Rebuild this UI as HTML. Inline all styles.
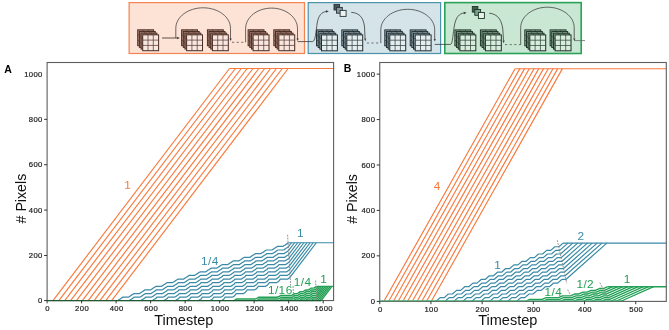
<!DOCTYPE html>
<html><head><meta charset="utf-8"><style>
html,body{margin:0;padding:0;background:#fff;}
svg{display:block;font-family:"Liberation Sans", sans-serif;will-change:transform;}
.tk{fill:#1a1a1a;stroke:#1a1a1a;stroke-width:0.2px;}
</style></head><body>
<svg width="669" height="330" viewBox="0 0 669 330">
<rect width="669" height="330" fill="#fff"/>
<rect x="129.1" y="2.6" width="175.4" height="50.9" fill="#fde2d6" stroke="#f58452" stroke-width="1.2"/>
<rect x="308.2" y="2.6" width="132.4" height="50.9" fill="#d5e4e9" stroke="#4b93ad" stroke-width="1.2"/>
<rect x="444.8" y="2.6" width="136.4" height="50.9" fill="#c9e7d3" stroke="#2aa257" stroke-width="1.6"/>
<rect x="137.70" y="29.80" width="15.9" height="15.9" fill="#a88579"/>
<line x1="143.00" y1="29.80" x2="143.00" y2="45.70" stroke="#4a2c22" stroke-width="0.55"/>
<line x1="137.70" y1="35.10" x2="153.60" y2="35.10" stroke="#4a2c22" stroke-width="0.55"/>
<line x1="148.30" y1="29.80" x2="148.30" y2="45.70" stroke="#4a2c22" stroke-width="0.55"/>
<line x1="137.70" y1="40.40" x2="153.60" y2="40.40" stroke="#4a2c22" stroke-width="0.55"/>
<rect x="137.70" y="29.80" width="15.9" height="15.9" fill="none" stroke="#4a2c22" stroke-width="0.95"/>
<rect x="139.37" y="31.47" width="15.9" height="15.9" fill="#a88579"/>
<line x1="144.67" y1="31.47" x2="144.67" y2="47.37" stroke="#4a2c22" stroke-width="0.55"/>
<line x1="139.37" y1="36.77" x2="155.27" y2="36.77" stroke="#4a2c22" stroke-width="0.55"/>
<line x1="149.97" y1="31.47" x2="149.97" y2="47.37" stroke="#4a2c22" stroke-width="0.55"/>
<line x1="139.37" y1="42.07" x2="155.27" y2="42.07" stroke="#4a2c22" stroke-width="0.55"/>
<rect x="139.37" y="31.47" width="15.9" height="15.9" fill="none" stroke="#4a2c22" stroke-width="0.95"/>
<rect x="141.04" y="33.14" width="15.9" height="15.9" fill="#a88579"/>
<line x1="146.34" y1="33.14" x2="146.34" y2="49.04" stroke="#4a2c22" stroke-width="0.55"/>
<line x1="141.04" y1="38.44" x2="156.94" y2="38.44" stroke="#4a2c22" stroke-width="0.55"/>
<line x1="151.64" y1="33.14" x2="151.64" y2="49.04" stroke="#4a2c22" stroke-width="0.55"/>
<line x1="141.04" y1="43.74" x2="156.94" y2="43.74" stroke="#4a2c22" stroke-width="0.55"/>
<rect x="141.04" y="33.14" width="15.9" height="15.9" fill="none" stroke="#4a2c22" stroke-width="0.95"/>
<rect x="142.71" y="34.81" width="15.9" height="15.9" fill="#f7e7e0"/>
<line x1="148.01" y1="34.81" x2="148.01" y2="50.71" stroke="#5e3e34" stroke-width="0.75"/>
<line x1="142.71" y1="40.11" x2="158.61" y2="40.11" stroke="#5e3e34" stroke-width="0.75"/>
<line x1="153.31" y1="34.81" x2="153.31" y2="50.71" stroke="#5e3e34" stroke-width="0.75"/>
<line x1="142.71" y1="45.41" x2="158.61" y2="45.41" stroke="#5e3e34" stroke-width="0.75"/>
<rect x="142.71" y="34.81" width="15.9" height="15.9" fill="none" stroke="#4a2c22" stroke-width="1.0"/>
<rect x="181.60" y="29.80" width="15.9" height="15.9" fill="#a88579"/>
<line x1="186.90" y1="29.80" x2="186.90" y2="45.70" stroke="#4a2c22" stroke-width="0.55"/>
<line x1="181.60" y1="35.10" x2="197.50" y2="35.10" stroke="#4a2c22" stroke-width="0.55"/>
<line x1="192.20" y1="29.80" x2="192.20" y2="45.70" stroke="#4a2c22" stroke-width="0.55"/>
<line x1="181.60" y1="40.40" x2="197.50" y2="40.40" stroke="#4a2c22" stroke-width="0.55"/>
<rect x="181.60" y="29.80" width="15.9" height="15.9" fill="none" stroke="#4a2c22" stroke-width="0.95"/>
<rect x="183.27" y="31.47" width="15.9" height="15.9" fill="#a88579"/>
<line x1="188.57" y1="31.47" x2="188.57" y2="47.37" stroke="#4a2c22" stroke-width="0.55"/>
<line x1="183.27" y1="36.77" x2="199.17" y2="36.77" stroke="#4a2c22" stroke-width="0.55"/>
<line x1="193.87" y1="31.47" x2="193.87" y2="47.37" stroke="#4a2c22" stroke-width="0.55"/>
<line x1="183.27" y1="42.07" x2="199.17" y2="42.07" stroke="#4a2c22" stroke-width="0.55"/>
<rect x="183.27" y="31.47" width="15.9" height="15.9" fill="none" stroke="#4a2c22" stroke-width="0.95"/>
<rect x="184.94" y="33.14" width="15.9" height="15.9" fill="#a88579"/>
<line x1="190.24" y1="33.14" x2="190.24" y2="49.04" stroke="#4a2c22" stroke-width="0.55"/>
<line x1="184.94" y1="38.44" x2="200.84" y2="38.44" stroke="#4a2c22" stroke-width="0.55"/>
<line x1="195.54" y1="33.14" x2="195.54" y2="49.04" stroke="#4a2c22" stroke-width="0.55"/>
<line x1="184.94" y1="43.74" x2="200.84" y2="43.74" stroke="#4a2c22" stroke-width="0.55"/>
<rect x="184.94" y="33.14" width="15.9" height="15.9" fill="none" stroke="#4a2c22" stroke-width="0.95"/>
<rect x="186.61" y="34.81" width="15.9" height="15.9" fill="#f7e7e0"/>
<line x1="191.91" y1="34.81" x2="191.91" y2="50.71" stroke="#5e3e34" stroke-width="0.75"/>
<line x1="186.61" y1="40.11" x2="202.51" y2="40.11" stroke="#5e3e34" stroke-width="0.75"/>
<line x1="197.21" y1="34.81" x2="197.21" y2="50.71" stroke="#5e3e34" stroke-width="0.75"/>
<line x1="186.61" y1="45.41" x2="202.51" y2="45.41" stroke="#5e3e34" stroke-width="0.75"/>
<rect x="186.61" y="34.81" width="15.9" height="15.9" fill="none" stroke="#4a2c22" stroke-width="1.0"/>
<rect x="207.40" y="29.80" width="15.9" height="15.9" fill="#a88579"/>
<line x1="212.70" y1="29.80" x2="212.70" y2="45.70" stroke="#4a2c22" stroke-width="0.55"/>
<line x1="207.40" y1="35.10" x2="223.30" y2="35.10" stroke="#4a2c22" stroke-width="0.55"/>
<line x1="218.00" y1="29.80" x2="218.00" y2="45.70" stroke="#4a2c22" stroke-width="0.55"/>
<line x1="207.40" y1="40.40" x2="223.30" y2="40.40" stroke="#4a2c22" stroke-width="0.55"/>
<rect x="207.40" y="29.80" width="15.9" height="15.9" fill="none" stroke="#4a2c22" stroke-width="0.95"/>
<rect x="209.07" y="31.47" width="15.9" height="15.9" fill="#a88579"/>
<line x1="214.37" y1="31.47" x2="214.37" y2="47.37" stroke="#4a2c22" stroke-width="0.55"/>
<line x1="209.07" y1="36.77" x2="224.97" y2="36.77" stroke="#4a2c22" stroke-width="0.55"/>
<line x1="219.67" y1="31.47" x2="219.67" y2="47.37" stroke="#4a2c22" stroke-width="0.55"/>
<line x1="209.07" y1="42.07" x2="224.97" y2="42.07" stroke="#4a2c22" stroke-width="0.55"/>
<rect x="209.07" y="31.47" width="15.9" height="15.9" fill="none" stroke="#4a2c22" stroke-width="0.95"/>
<rect x="210.74" y="33.14" width="15.9" height="15.9" fill="#a88579"/>
<line x1="216.04" y1="33.14" x2="216.04" y2="49.04" stroke="#4a2c22" stroke-width="0.55"/>
<line x1="210.74" y1="38.44" x2="226.64" y2="38.44" stroke="#4a2c22" stroke-width="0.55"/>
<line x1="221.34" y1="33.14" x2="221.34" y2="49.04" stroke="#4a2c22" stroke-width="0.55"/>
<line x1="210.74" y1="43.74" x2="226.64" y2="43.74" stroke="#4a2c22" stroke-width="0.55"/>
<rect x="210.74" y="33.14" width="15.9" height="15.9" fill="none" stroke="#4a2c22" stroke-width="0.95"/>
<rect x="212.41" y="34.81" width="15.9" height="15.9" fill="#f7e7e0"/>
<line x1="217.71" y1="34.81" x2="217.71" y2="50.71" stroke="#5e3e34" stroke-width="0.75"/>
<line x1="212.41" y1="40.11" x2="228.31" y2="40.11" stroke="#5e3e34" stroke-width="0.75"/>
<line x1="223.01" y1="34.81" x2="223.01" y2="50.71" stroke="#5e3e34" stroke-width="0.75"/>
<line x1="212.41" y1="45.41" x2="228.31" y2="45.41" stroke="#5e3e34" stroke-width="0.75"/>
<rect x="212.41" y="34.81" width="15.9" height="15.9" fill="none" stroke="#4a2c22" stroke-width="1.0"/>
<rect x="248.10" y="29.80" width="15.9" height="15.9" fill="#a88579"/>
<line x1="253.40" y1="29.80" x2="253.40" y2="45.70" stroke="#4a2c22" stroke-width="0.55"/>
<line x1="248.10" y1="35.10" x2="264.00" y2="35.10" stroke="#4a2c22" stroke-width="0.55"/>
<line x1="258.70" y1="29.80" x2="258.70" y2="45.70" stroke="#4a2c22" stroke-width="0.55"/>
<line x1="248.10" y1="40.40" x2="264.00" y2="40.40" stroke="#4a2c22" stroke-width="0.55"/>
<rect x="248.10" y="29.80" width="15.9" height="15.9" fill="none" stroke="#4a2c22" stroke-width="0.95"/>
<rect x="249.77" y="31.47" width="15.9" height="15.9" fill="#a88579"/>
<line x1="255.07" y1="31.47" x2="255.07" y2="47.37" stroke="#4a2c22" stroke-width="0.55"/>
<line x1="249.77" y1="36.77" x2="265.67" y2="36.77" stroke="#4a2c22" stroke-width="0.55"/>
<line x1="260.37" y1="31.47" x2="260.37" y2="47.37" stroke="#4a2c22" stroke-width="0.55"/>
<line x1="249.77" y1="42.07" x2="265.67" y2="42.07" stroke="#4a2c22" stroke-width="0.55"/>
<rect x="249.77" y="31.47" width="15.9" height="15.9" fill="none" stroke="#4a2c22" stroke-width="0.95"/>
<rect x="251.44" y="33.14" width="15.9" height="15.9" fill="#a88579"/>
<line x1="256.74" y1="33.14" x2="256.74" y2="49.04" stroke="#4a2c22" stroke-width="0.55"/>
<line x1="251.44" y1="38.44" x2="267.34" y2="38.44" stroke="#4a2c22" stroke-width="0.55"/>
<line x1="262.04" y1="33.14" x2="262.04" y2="49.04" stroke="#4a2c22" stroke-width="0.55"/>
<line x1="251.44" y1="43.74" x2="267.34" y2="43.74" stroke="#4a2c22" stroke-width="0.55"/>
<rect x="251.44" y="33.14" width="15.9" height="15.9" fill="none" stroke="#4a2c22" stroke-width="0.95"/>
<rect x="253.11" y="34.81" width="15.9" height="15.9" fill="#f7e7e0"/>
<line x1="258.41" y1="34.81" x2="258.41" y2="50.71" stroke="#5e3e34" stroke-width="0.75"/>
<line x1="253.11" y1="40.11" x2="269.01" y2="40.11" stroke="#5e3e34" stroke-width="0.75"/>
<line x1="263.71" y1="34.81" x2="263.71" y2="50.71" stroke="#5e3e34" stroke-width="0.75"/>
<line x1="253.11" y1="45.41" x2="269.01" y2="45.41" stroke="#5e3e34" stroke-width="0.75"/>
<rect x="253.11" y="34.81" width="15.9" height="15.9" fill="none" stroke="#4a2c22" stroke-width="1.0"/>
<rect x="273.80" y="29.80" width="15.9" height="15.9" fill="#a88579"/>
<line x1="279.10" y1="29.80" x2="279.10" y2="45.70" stroke="#4a2c22" stroke-width="0.55"/>
<line x1="273.80" y1="35.10" x2="289.70" y2="35.10" stroke="#4a2c22" stroke-width="0.55"/>
<line x1="284.40" y1="29.80" x2="284.40" y2="45.70" stroke="#4a2c22" stroke-width="0.55"/>
<line x1="273.80" y1="40.40" x2="289.70" y2="40.40" stroke="#4a2c22" stroke-width="0.55"/>
<rect x="273.80" y="29.80" width="15.9" height="15.9" fill="none" stroke="#4a2c22" stroke-width="0.95"/>
<rect x="275.47" y="31.47" width="15.9" height="15.9" fill="#a88579"/>
<line x1="280.77" y1="31.47" x2="280.77" y2="47.37" stroke="#4a2c22" stroke-width="0.55"/>
<line x1="275.47" y1="36.77" x2="291.37" y2="36.77" stroke="#4a2c22" stroke-width="0.55"/>
<line x1="286.07" y1="31.47" x2="286.07" y2="47.37" stroke="#4a2c22" stroke-width="0.55"/>
<line x1="275.47" y1="42.07" x2="291.37" y2="42.07" stroke="#4a2c22" stroke-width="0.55"/>
<rect x="275.47" y="31.47" width="15.9" height="15.9" fill="none" stroke="#4a2c22" stroke-width="0.95"/>
<rect x="277.14" y="33.14" width="15.9" height="15.9" fill="#a88579"/>
<line x1="282.44" y1="33.14" x2="282.44" y2="49.04" stroke="#4a2c22" stroke-width="0.55"/>
<line x1="277.14" y1="38.44" x2="293.04" y2="38.44" stroke="#4a2c22" stroke-width="0.55"/>
<line x1="287.74" y1="33.14" x2="287.74" y2="49.04" stroke="#4a2c22" stroke-width="0.55"/>
<line x1="277.14" y1="43.74" x2="293.04" y2="43.74" stroke="#4a2c22" stroke-width="0.55"/>
<rect x="277.14" y="33.14" width="15.9" height="15.9" fill="none" stroke="#4a2c22" stroke-width="0.95"/>
<rect x="278.81" y="34.81" width="15.9" height="15.9" fill="#f7e7e0"/>
<line x1="284.11" y1="34.81" x2="284.11" y2="50.71" stroke="#5e3e34" stroke-width="0.75"/>
<line x1="278.81" y1="40.11" x2="294.71" y2="40.11" stroke="#5e3e34" stroke-width="0.75"/>
<line x1="289.41" y1="34.81" x2="289.41" y2="50.71" stroke="#5e3e34" stroke-width="0.75"/>
<line x1="278.81" y1="45.41" x2="294.71" y2="45.41" stroke="#5e3e34" stroke-width="0.75"/>
<rect x="278.81" y="34.81" width="15.9" height="15.9" fill="none" stroke="#4a2c22" stroke-width="1.0"/>
<rect x="316.50" y="29.90" width="15.9" height="15.9" fill="#96a5aa"/>
<line x1="321.80" y1="29.90" x2="321.80" y2="45.80" stroke="#1f2d32" stroke-width="0.55"/>
<line x1="316.50" y1="35.20" x2="332.40" y2="35.20" stroke="#1f2d32" stroke-width="0.55"/>
<line x1="327.10" y1="29.90" x2="327.10" y2="45.80" stroke="#1f2d32" stroke-width="0.55"/>
<line x1="316.50" y1="40.50" x2="332.40" y2="40.50" stroke="#1f2d32" stroke-width="0.55"/>
<rect x="316.50" y="29.90" width="15.9" height="15.9" fill="none" stroke="#1f2d32" stroke-width="0.95"/>
<rect x="318.17" y="31.57" width="15.9" height="15.9" fill="#96a5aa"/>
<line x1="323.47" y1="31.57" x2="323.47" y2="47.47" stroke="#1f2d32" stroke-width="0.55"/>
<line x1="318.17" y1="36.87" x2="334.07" y2="36.87" stroke="#1f2d32" stroke-width="0.55"/>
<line x1="328.77" y1="31.57" x2="328.77" y2="47.47" stroke="#1f2d32" stroke-width="0.55"/>
<line x1="318.17" y1="42.17" x2="334.07" y2="42.17" stroke="#1f2d32" stroke-width="0.55"/>
<rect x="318.17" y="31.57" width="15.9" height="15.9" fill="none" stroke="#1f2d32" stroke-width="0.95"/>
<rect x="319.84" y="33.24" width="15.9" height="15.9" fill="#96a5aa"/>
<line x1="325.14" y1="33.24" x2="325.14" y2="49.14" stroke="#1f2d32" stroke-width="0.55"/>
<line x1="319.84" y1="38.54" x2="335.74" y2="38.54" stroke="#1f2d32" stroke-width="0.55"/>
<line x1="330.44" y1="33.24" x2="330.44" y2="49.14" stroke="#1f2d32" stroke-width="0.55"/>
<line x1="319.84" y1="43.84" x2="335.74" y2="43.84" stroke="#1f2d32" stroke-width="0.55"/>
<rect x="319.84" y="33.24" width="15.9" height="15.9" fill="none" stroke="#1f2d32" stroke-width="0.95"/>
<rect x="321.51" y="34.91" width="15.9" height="15.9" fill="#e4ecee"/>
<line x1="326.81" y1="34.91" x2="326.81" y2="50.81" stroke="#33434a" stroke-width="0.75"/>
<line x1="321.51" y1="40.21" x2="337.41" y2="40.21" stroke="#33434a" stroke-width="0.75"/>
<line x1="332.11" y1="34.91" x2="332.11" y2="50.81" stroke="#33434a" stroke-width="0.75"/>
<line x1="321.51" y1="45.51" x2="337.41" y2="45.51" stroke="#33434a" stroke-width="0.75"/>
<rect x="321.51" y="34.91" width="15.9" height="15.9" fill="none" stroke="#1f2d32" stroke-width="1.0"/>
<rect x="341.80" y="29.90" width="15.9" height="15.9" fill="#96a5aa"/>
<line x1="347.10" y1="29.90" x2="347.10" y2="45.80" stroke="#1f2d32" stroke-width="0.55"/>
<line x1="341.80" y1="35.20" x2="357.70" y2="35.20" stroke="#1f2d32" stroke-width="0.55"/>
<line x1="352.40" y1="29.90" x2="352.40" y2="45.80" stroke="#1f2d32" stroke-width="0.55"/>
<line x1="341.80" y1="40.50" x2="357.70" y2="40.50" stroke="#1f2d32" stroke-width="0.55"/>
<rect x="341.80" y="29.90" width="15.9" height="15.9" fill="none" stroke="#1f2d32" stroke-width="0.95"/>
<rect x="343.47" y="31.57" width="15.9" height="15.9" fill="#96a5aa"/>
<line x1="348.77" y1="31.57" x2="348.77" y2="47.47" stroke="#1f2d32" stroke-width="0.55"/>
<line x1="343.47" y1="36.87" x2="359.37" y2="36.87" stroke="#1f2d32" stroke-width="0.55"/>
<line x1="354.07" y1="31.57" x2="354.07" y2="47.47" stroke="#1f2d32" stroke-width="0.55"/>
<line x1="343.47" y1="42.17" x2="359.37" y2="42.17" stroke="#1f2d32" stroke-width="0.55"/>
<rect x="343.47" y="31.57" width="15.9" height="15.9" fill="none" stroke="#1f2d32" stroke-width="0.95"/>
<rect x="345.14" y="33.24" width="15.9" height="15.9" fill="#96a5aa"/>
<line x1="350.44" y1="33.24" x2="350.44" y2="49.14" stroke="#1f2d32" stroke-width="0.55"/>
<line x1="345.14" y1="38.54" x2="361.04" y2="38.54" stroke="#1f2d32" stroke-width="0.55"/>
<line x1="355.74" y1="33.24" x2="355.74" y2="49.14" stroke="#1f2d32" stroke-width="0.55"/>
<line x1="345.14" y1="43.84" x2="361.04" y2="43.84" stroke="#1f2d32" stroke-width="0.55"/>
<rect x="345.14" y="33.24" width="15.9" height="15.9" fill="none" stroke="#1f2d32" stroke-width="0.95"/>
<rect x="346.81" y="34.91" width="15.9" height="15.9" fill="#e4ecee"/>
<line x1="352.11" y1="34.91" x2="352.11" y2="50.81" stroke="#33434a" stroke-width="0.75"/>
<line x1="346.81" y1="40.21" x2="362.71" y2="40.21" stroke="#33434a" stroke-width="0.75"/>
<line x1="357.41" y1="34.91" x2="357.41" y2="50.81" stroke="#33434a" stroke-width="0.75"/>
<line x1="346.81" y1="45.51" x2="362.71" y2="45.51" stroke="#33434a" stroke-width="0.75"/>
<rect x="346.81" y="34.91" width="15.9" height="15.9" fill="none" stroke="#1f2d32" stroke-width="1.0"/>
<rect x="384.80" y="29.90" width="15.9" height="15.9" fill="#96a5aa"/>
<line x1="390.10" y1="29.90" x2="390.10" y2="45.80" stroke="#1f2d32" stroke-width="0.55"/>
<line x1="384.80" y1="35.20" x2="400.70" y2="35.20" stroke="#1f2d32" stroke-width="0.55"/>
<line x1="395.40" y1="29.90" x2="395.40" y2="45.80" stroke="#1f2d32" stroke-width="0.55"/>
<line x1="384.80" y1="40.50" x2="400.70" y2="40.50" stroke="#1f2d32" stroke-width="0.55"/>
<rect x="384.80" y="29.90" width="15.9" height="15.9" fill="none" stroke="#1f2d32" stroke-width="0.95"/>
<rect x="386.47" y="31.57" width="15.9" height="15.9" fill="#96a5aa"/>
<line x1="391.77" y1="31.57" x2="391.77" y2="47.47" stroke="#1f2d32" stroke-width="0.55"/>
<line x1="386.47" y1="36.87" x2="402.37" y2="36.87" stroke="#1f2d32" stroke-width="0.55"/>
<line x1="397.07" y1="31.57" x2="397.07" y2="47.47" stroke="#1f2d32" stroke-width="0.55"/>
<line x1="386.47" y1="42.17" x2="402.37" y2="42.17" stroke="#1f2d32" stroke-width="0.55"/>
<rect x="386.47" y="31.57" width="15.9" height="15.9" fill="none" stroke="#1f2d32" stroke-width="0.95"/>
<rect x="388.14" y="33.24" width="15.9" height="15.9" fill="#96a5aa"/>
<line x1="393.44" y1="33.24" x2="393.44" y2="49.14" stroke="#1f2d32" stroke-width="0.55"/>
<line x1="388.14" y1="38.54" x2="404.04" y2="38.54" stroke="#1f2d32" stroke-width="0.55"/>
<line x1="398.74" y1="33.24" x2="398.74" y2="49.14" stroke="#1f2d32" stroke-width="0.55"/>
<line x1="388.14" y1="43.84" x2="404.04" y2="43.84" stroke="#1f2d32" stroke-width="0.55"/>
<rect x="388.14" y="33.24" width="15.9" height="15.9" fill="none" stroke="#1f2d32" stroke-width="0.95"/>
<rect x="389.81" y="34.91" width="15.9" height="15.9" fill="#e4ecee"/>
<line x1="395.11" y1="34.91" x2="395.11" y2="50.81" stroke="#33434a" stroke-width="0.75"/>
<line x1="389.81" y1="40.21" x2="405.71" y2="40.21" stroke="#33434a" stroke-width="0.75"/>
<line x1="400.41" y1="34.91" x2="400.41" y2="50.81" stroke="#33434a" stroke-width="0.75"/>
<line x1="389.81" y1="45.51" x2="405.71" y2="45.51" stroke="#33434a" stroke-width="0.75"/>
<rect x="389.81" y="34.91" width="15.9" height="15.9" fill="none" stroke="#1f2d32" stroke-width="1.0"/>
<rect x="410.20" y="29.90" width="15.9" height="15.9" fill="#96a5aa"/>
<line x1="415.50" y1="29.90" x2="415.50" y2="45.80" stroke="#1f2d32" stroke-width="0.55"/>
<line x1="410.20" y1="35.20" x2="426.10" y2="35.20" stroke="#1f2d32" stroke-width="0.55"/>
<line x1="420.80" y1="29.90" x2="420.80" y2="45.80" stroke="#1f2d32" stroke-width="0.55"/>
<line x1="410.20" y1="40.50" x2="426.10" y2="40.50" stroke="#1f2d32" stroke-width="0.55"/>
<rect x="410.20" y="29.90" width="15.9" height="15.9" fill="none" stroke="#1f2d32" stroke-width="0.95"/>
<rect x="411.87" y="31.57" width="15.9" height="15.9" fill="#96a5aa"/>
<line x1="417.17" y1="31.57" x2="417.17" y2="47.47" stroke="#1f2d32" stroke-width="0.55"/>
<line x1="411.87" y1="36.87" x2="427.77" y2="36.87" stroke="#1f2d32" stroke-width="0.55"/>
<line x1="422.47" y1="31.57" x2="422.47" y2="47.47" stroke="#1f2d32" stroke-width="0.55"/>
<line x1="411.87" y1="42.17" x2="427.77" y2="42.17" stroke="#1f2d32" stroke-width="0.55"/>
<rect x="411.87" y="31.57" width="15.9" height="15.9" fill="none" stroke="#1f2d32" stroke-width="0.95"/>
<rect x="413.54" y="33.24" width="15.9" height="15.9" fill="#96a5aa"/>
<line x1="418.84" y1="33.24" x2="418.84" y2="49.14" stroke="#1f2d32" stroke-width="0.55"/>
<line x1="413.54" y1="38.54" x2="429.44" y2="38.54" stroke="#1f2d32" stroke-width="0.55"/>
<line x1="424.14" y1="33.24" x2="424.14" y2="49.14" stroke="#1f2d32" stroke-width="0.55"/>
<line x1="413.54" y1="43.84" x2="429.44" y2="43.84" stroke="#1f2d32" stroke-width="0.55"/>
<rect x="413.54" y="33.24" width="15.9" height="15.9" fill="none" stroke="#1f2d32" stroke-width="0.95"/>
<rect x="415.21" y="34.91" width="15.9" height="15.9" fill="#e4ecee"/>
<line x1="420.51" y1="34.91" x2="420.51" y2="50.81" stroke="#33434a" stroke-width="0.75"/>
<line x1="415.21" y1="40.21" x2="431.11" y2="40.21" stroke="#33434a" stroke-width="0.75"/>
<line x1="425.81" y1="34.91" x2="425.81" y2="50.81" stroke="#33434a" stroke-width="0.75"/>
<line x1="415.21" y1="45.51" x2="431.11" y2="45.51" stroke="#33434a" stroke-width="0.75"/>
<rect x="415.21" y="34.91" width="15.9" height="15.9" fill="none" stroke="#1f2d32" stroke-width="1.0"/>
<rect x="454.90" y="29.90" width="15.9" height="15.9" fill="#8fae99"/>
<line x1="460.20" y1="29.90" x2="460.20" y2="45.80" stroke="#1b3023" stroke-width="0.55"/>
<line x1="454.90" y1="35.20" x2="470.80" y2="35.20" stroke="#1b3023" stroke-width="0.55"/>
<line x1="465.50" y1="29.90" x2="465.50" y2="45.80" stroke="#1b3023" stroke-width="0.55"/>
<line x1="454.90" y1="40.50" x2="470.80" y2="40.50" stroke="#1b3023" stroke-width="0.55"/>
<rect x="454.90" y="29.90" width="15.9" height="15.9" fill="none" stroke="#1b3023" stroke-width="0.95"/>
<rect x="456.57" y="31.57" width="15.9" height="15.9" fill="#8fae99"/>
<line x1="461.87" y1="31.57" x2="461.87" y2="47.47" stroke="#1b3023" stroke-width="0.55"/>
<line x1="456.57" y1="36.87" x2="472.47" y2="36.87" stroke="#1b3023" stroke-width="0.55"/>
<line x1="467.17" y1="31.57" x2="467.17" y2="47.47" stroke="#1b3023" stroke-width="0.55"/>
<line x1="456.57" y1="42.17" x2="472.47" y2="42.17" stroke="#1b3023" stroke-width="0.55"/>
<rect x="456.57" y="31.57" width="15.9" height="15.9" fill="none" stroke="#1b3023" stroke-width="0.95"/>
<rect x="458.24" y="33.24" width="15.9" height="15.9" fill="#8fae99"/>
<line x1="463.54" y1="33.24" x2="463.54" y2="49.14" stroke="#1b3023" stroke-width="0.55"/>
<line x1="458.24" y1="38.54" x2="474.14" y2="38.54" stroke="#1b3023" stroke-width="0.55"/>
<line x1="468.84" y1="33.24" x2="468.84" y2="49.14" stroke="#1b3023" stroke-width="0.55"/>
<line x1="458.24" y1="43.84" x2="474.14" y2="43.84" stroke="#1b3023" stroke-width="0.55"/>
<rect x="458.24" y="33.24" width="15.9" height="15.9" fill="none" stroke="#1b3023" stroke-width="0.95"/>
<rect x="459.91" y="34.91" width="15.9" height="15.9" fill="#d9ebdf"/>
<line x1="465.21" y1="34.91" x2="465.21" y2="50.81" stroke="#2c4836" stroke-width="0.75"/>
<line x1="459.91" y1="40.21" x2="475.81" y2="40.21" stroke="#2c4836" stroke-width="0.75"/>
<line x1="470.51" y1="34.91" x2="470.51" y2="50.81" stroke="#2c4836" stroke-width="0.75"/>
<line x1="459.91" y1="45.51" x2="475.81" y2="45.51" stroke="#2c4836" stroke-width="0.75"/>
<rect x="459.91" y="34.91" width="15.9" height="15.9" fill="none" stroke="#1b3023" stroke-width="1.0"/>
<rect x="480.40" y="29.90" width="15.9" height="15.9" fill="#8fae99"/>
<line x1="485.70" y1="29.90" x2="485.70" y2="45.80" stroke="#1b3023" stroke-width="0.55"/>
<line x1="480.40" y1="35.20" x2="496.30" y2="35.20" stroke="#1b3023" stroke-width="0.55"/>
<line x1="491.00" y1="29.90" x2="491.00" y2="45.80" stroke="#1b3023" stroke-width="0.55"/>
<line x1="480.40" y1="40.50" x2="496.30" y2="40.50" stroke="#1b3023" stroke-width="0.55"/>
<rect x="480.40" y="29.90" width="15.9" height="15.9" fill="none" stroke="#1b3023" stroke-width="0.95"/>
<rect x="482.07" y="31.57" width="15.9" height="15.9" fill="#8fae99"/>
<line x1="487.37" y1="31.57" x2="487.37" y2="47.47" stroke="#1b3023" stroke-width="0.55"/>
<line x1="482.07" y1="36.87" x2="497.97" y2="36.87" stroke="#1b3023" stroke-width="0.55"/>
<line x1="492.67" y1="31.57" x2="492.67" y2="47.47" stroke="#1b3023" stroke-width="0.55"/>
<line x1="482.07" y1="42.17" x2="497.97" y2="42.17" stroke="#1b3023" stroke-width="0.55"/>
<rect x="482.07" y="31.57" width="15.9" height="15.9" fill="none" stroke="#1b3023" stroke-width="0.95"/>
<rect x="483.74" y="33.24" width="15.9" height="15.9" fill="#8fae99"/>
<line x1="489.04" y1="33.24" x2="489.04" y2="49.14" stroke="#1b3023" stroke-width="0.55"/>
<line x1="483.74" y1="38.54" x2="499.64" y2="38.54" stroke="#1b3023" stroke-width="0.55"/>
<line x1="494.34" y1="33.24" x2="494.34" y2="49.14" stroke="#1b3023" stroke-width="0.55"/>
<line x1="483.74" y1="43.84" x2="499.64" y2="43.84" stroke="#1b3023" stroke-width="0.55"/>
<rect x="483.74" y="33.24" width="15.9" height="15.9" fill="none" stroke="#1b3023" stroke-width="0.95"/>
<rect x="485.41" y="34.91" width="15.9" height="15.9" fill="#d9ebdf"/>
<line x1="490.71" y1="34.91" x2="490.71" y2="50.81" stroke="#2c4836" stroke-width="0.75"/>
<line x1="485.41" y1="40.21" x2="501.31" y2="40.21" stroke="#2c4836" stroke-width="0.75"/>
<line x1="496.01" y1="34.91" x2="496.01" y2="50.81" stroke="#2c4836" stroke-width="0.75"/>
<line x1="485.41" y1="45.51" x2="501.31" y2="45.51" stroke="#2c4836" stroke-width="0.75"/>
<rect x="485.41" y="34.91" width="15.9" height="15.9" fill="none" stroke="#1b3023" stroke-width="1.0"/>
<rect x="524.80" y="29.90" width="15.9" height="15.9" fill="#8fae99"/>
<line x1="530.10" y1="29.90" x2="530.10" y2="45.80" stroke="#1b3023" stroke-width="0.55"/>
<line x1="524.80" y1="35.20" x2="540.70" y2="35.20" stroke="#1b3023" stroke-width="0.55"/>
<line x1="535.40" y1="29.90" x2="535.40" y2="45.80" stroke="#1b3023" stroke-width="0.55"/>
<line x1="524.80" y1="40.50" x2="540.70" y2="40.50" stroke="#1b3023" stroke-width="0.55"/>
<rect x="524.80" y="29.90" width="15.9" height="15.9" fill="none" stroke="#1b3023" stroke-width="0.95"/>
<rect x="526.47" y="31.57" width="15.9" height="15.9" fill="#8fae99"/>
<line x1="531.77" y1="31.57" x2="531.77" y2="47.47" stroke="#1b3023" stroke-width="0.55"/>
<line x1="526.47" y1="36.87" x2="542.37" y2="36.87" stroke="#1b3023" stroke-width="0.55"/>
<line x1="537.07" y1="31.57" x2="537.07" y2="47.47" stroke="#1b3023" stroke-width="0.55"/>
<line x1="526.47" y1="42.17" x2="542.37" y2="42.17" stroke="#1b3023" stroke-width="0.55"/>
<rect x="526.47" y="31.57" width="15.9" height="15.9" fill="none" stroke="#1b3023" stroke-width="0.95"/>
<rect x="528.14" y="33.24" width="15.9" height="15.9" fill="#8fae99"/>
<line x1="533.44" y1="33.24" x2="533.44" y2="49.14" stroke="#1b3023" stroke-width="0.55"/>
<line x1="528.14" y1="38.54" x2="544.04" y2="38.54" stroke="#1b3023" stroke-width="0.55"/>
<line x1="538.74" y1="33.24" x2="538.74" y2="49.14" stroke="#1b3023" stroke-width="0.55"/>
<line x1="528.14" y1="43.84" x2="544.04" y2="43.84" stroke="#1b3023" stroke-width="0.55"/>
<rect x="528.14" y="33.24" width="15.9" height="15.9" fill="none" stroke="#1b3023" stroke-width="0.95"/>
<rect x="529.81" y="34.91" width="15.9" height="15.9" fill="#d9ebdf"/>
<line x1="535.11" y1="34.91" x2="535.11" y2="50.81" stroke="#2c4836" stroke-width="0.75"/>
<line x1="529.81" y1="40.21" x2="545.71" y2="40.21" stroke="#2c4836" stroke-width="0.75"/>
<line x1="540.41" y1="34.91" x2="540.41" y2="50.81" stroke="#2c4836" stroke-width="0.75"/>
<line x1="529.81" y1="45.51" x2="545.71" y2="45.51" stroke="#2c4836" stroke-width="0.75"/>
<rect x="529.81" y="34.91" width="15.9" height="15.9" fill="none" stroke="#1b3023" stroke-width="1.0"/>
<rect x="550.10" y="29.90" width="15.9" height="15.9" fill="#8fae99"/>
<line x1="555.40" y1="29.90" x2="555.40" y2="45.80" stroke="#1b3023" stroke-width="0.55"/>
<line x1="550.10" y1="35.20" x2="566.00" y2="35.20" stroke="#1b3023" stroke-width="0.55"/>
<line x1="560.70" y1="29.90" x2="560.70" y2="45.80" stroke="#1b3023" stroke-width="0.55"/>
<line x1="550.10" y1="40.50" x2="566.00" y2="40.50" stroke="#1b3023" stroke-width="0.55"/>
<rect x="550.10" y="29.90" width="15.9" height="15.9" fill="none" stroke="#1b3023" stroke-width="0.95"/>
<rect x="551.77" y="31.57" width="15.9" height="15.9" fill="#8fae99"/>
<line x1="557.07" y1="31.57" x2="557.07" y2="47.47" stroke="#1b3023" stroke-width="0.55"/>
<line x1="551.77" y1="36.87" x2="567.67" y2="36.87" stroke="#1b3023" stroke-width="0.55"/>
<line x1="562.37" y1="31.57" x2="562.37" y2="47.47" stroke="#1b3023" stroke-width="0.55"/>
<line x1="551.77" y1="42.17" x2="567.67" y2="42.17" stroke="#1b3023" stroke-width="0.55"/>
<rect x="551.77" y="31.57" width="15.9" height="15.9" fill="none" stroke="#1b3023" stroke-width="0.95"/>
<rect x="553.44" y="33.24" width="15.9" height="15.9" fill="#8fae99"/>
<line x1="558.74" y1="33.24" x2="558.74" y2="49.14" stroke="#1b3023" stroke-width="0.55"/>
<line x1="553.44" y1="38.54" x2="569.34" y2="38.54" stroke="#1b3023" stroke-width="0.55"/>
<line x1="564.04" y1="33.24" x2="564.04" y2="49.14" stroke="#1b3023" stroke-width="0.55"/>
<line x1="553.44" y1="43.84" x2="569.34" y2="43.84" stroke="#1b3023" stroke-width="0.55"/>
<rect x="553.44" y="33.24" width="15.9" height="15.9" fill="none" stroke="#1b3023" stroke-width="0.95"/>
<rect x="555.11" y="34.91" width="15.9" height="15.9" fill="#d9ebdf"/>
<line x1="560.41" y1="34.91" x2="560.41" y2="50.81" stroke="#2c4836" stroke-width="0.75"/>
<line x1="555.11" y1="40.21" x2="571.01" y2="40.21" stroke="#2c4836" stroke-width="0.75"/>
<line x1="565.71" y1="34.91" x2="565.71" y2="50.81" stroke="#2c4836" stroke-width="0.75"/>
<line x1="555.11" y1="45.51" x2="571.01" y2="45.51" stroke="#2c4836" stroke-width="0.75"/>
<rect x="555.11" y="34.91" width="15.9" height="15.9" fill="none" stroke="#1b3023" stroke-width="1.0"/>
<line x1="162" y1="38.0" x2="178" y2="38.0" stroke="#4a4340" stroke-width="0.9"/>
<path d="M179.80,38.00 L177.20,39.20 L177.20,36.80 Z" fill="#3a3a3a"/>
<path d="M175.80,38.00 L175.80,28.30 C175.80,16.98 188.04,7.80 203.15,7.80 C218.26,7.80 230.50,16.98 230.50,28.30 L230.50,39.00" fill="none" stroke="#3a3a3a" stroke-width="0.75"/>
<path d="M230.60,41.00 L229.50,38.60 L231.70,38.60 Z" fill="#3a3a3a"/>
<line x1="232.0" y1="42.3" x2="245.6" y2="42.3" stroke="#555" stroke-width="0.8" stroke-dasharray="2.2,2.4"/>
<path d="M245.60,42.30 L245.60,28.60 C245.60,17.28 257.22,8.10 271.55,8.10 C285.88,8.10 297.50,17.28 297.50,28.60 L297.50,39.00" fill="none" stroke="#3a3a3a" stroke-width="0.75"/>
<path d="M297.60,41.00 L296.50,38.60 L298.70,38.60 Z" fill="#3a3a3a"/>
<path d="M297.6,41.6 L312.4,41.6 C315.5,41.6 315.8,32 317.2,23 C318.5,15.5 321.5,12.2 326.2,11.5" fill="none" stroke="#3a3a3a" stroke-width="0.8"/>
<path d="M328.80,11.20 L326.16,12.73 L325.88,10.34 Z" fill="#3a3a3a"/>
<rect x="334.00" y="4.40" width="5.60" height="5.60" fill="#4a5559" stroke="#263338" stroke-width="0.9"/>
<rect x="336.50" y="7.40" width="5.80" height="5.80" fill="#8a979b" stroke="#263338" stroke-width="0.9"/>
<rect x="340.10" y="10.40" width="6.00" height="6.00" fill="#eef2f3" stroke="#263338" stroke-width="0.9"/>
<path d="M351.2,12.3 C360,13 363.5,18 364.5,27 L365.1,38.5" fill="none" stroke="#3a3a3a" stroke-width="0.8"/>
<path d="M365.20,41.20 L364.10,38.60 L366.30,38.60 Z" fill="#3a3a3a"/>
<line x1="366.8" y1="43.0" x2="380.8" y2="43.0" stroke="#555" stroke-width="0.8" stroke-dasharray="2.2,2.4"/>
<path d="M380.80,43.00 L380.80,29.80 C380.80,18.48 392.87,9.30 407.75,9.30 C422.63,9.30 434.70,18.48 434.70,29.80 L434.70,39.20" fill="none" stroke="#3a3a3a" stroke-width="0.75"/>
<path d="M434.80,41.40 L433.70,39.00 L435.90,39.00 Z" fill="#3a3a3a"/>
<path d="M434.7,44.4 L450.6,44.4 C452.6,44.4 453,33 454.5,25 C456,17 459.5,13.5 464,13" fill="none" stroke="#3a3a3a" stroke-width="0.8"/>
<path d="M466.60,12.70 L463.96,14.23 L463.68,11.84 Z" fill="#3a3a3a"/>
<rect x="472.30" y="6.50" width="5.60" height="5.60" fill="#3f6048" stroke="#1f3527" stroke-width="0.9"/>
<rect x="474.80" y="9.50" width="5.80" height="5.80" fill="#7aa487" stroke="#1f3527" stroke-width="0.9"/>
<rect x="478.40" y="12.50" width="6.00" height="6.00" fill="#e6f2ea" stroke="#1f3527" stroke-width="0.9"/>
<path d="M489.2,13.2 C498,14 501.5,20 502.8,29 L503.5,40.5" fill="none" stroke="#3a3a3a" stroke-width="0.8"/>
<path d="M503.60,43.20 L502.50,40.60 L504.70,40.60 Z" fill="#3a3a3a"/>
<line x1="505.0" y1="44.6" x2="520.7" y2="44.6" stroke="#555" stroke-width="0.8" stroke-dasharray="2.2,2.4"/>
<path d="M520.70,44.60 L520.70,27.70 C520.70,16.38 532.68,7.20 547.45,7.20 C562.22,7.20 574.20,16.38 574.20,27.70 L574.20,38.60" fill="none" stroke="#3a3a3a" stroke-width="0.75"/>
<path d="M574.30,41.00 L573.20,38.60 L575.40,38.60 Z" fill="#3a3a3a"/>
<line x1="574.2" y1="40.6" x2="585" y2="40.6" stroke="#666" stroke-width="0.8"/>
<clipPath id="clipA"><rect x="47.10" y="62.50" width="286.50" height="240.05"/></clipPath>
<g clip-path="url(#clipA)">
<path d="M52.79,300.85L229.50,68.50" fill="none" stroke="#f9793c" stroke-width="1.15" stroke-opacity="1.0" stroke-linejoin="round"/>
<path d="M58.66,300.85L235.36,68.50" fill="none" stroke="#f9793c" stroke-width="1.15" stroke-opacity="1.0" stroke-linejoin="round"/>
<path d="M64.53,300.85L241.23,68.50" fill="none" stroke="#f9793c" stroke-width="1.15" stroke-opacity="1.0" stroke-linejoin="round"/>
<path d="M70.40,300.85L247.10,68.50" fill="none" stroke="#f9793c" stroke-width="1.15" stroke-opacity="1.0" stroke-linejoin="round"/>
<path d="M76.26,300.85L252.96,68.50" fill="none" stroke="#f9793c" stroke-width="1.15" stroke-opacity="1.0" stroke-linejoin="round"/>
<path d="M82.13,300.85L258.83,68.50" fill="none" stroke="#f9793c" stroke-width="1.15" stroke-opacity="1.0" stroke-linejoin="round"/>
<path d="M88.00,300.85L264.70,68.50" fill="none" stroke="#f9793c" stroke-width="1.15" stroke-opacity="1.0" stroke-linejoin="round"/>
<path d="M93.86,300.85L270.57,68.50" fill="none" stroke="#f9793c" stroke-width="1.15" stroke-opacity="1.0" stroke-linejoin="round"/>
<path d="M99.73,300.85L276.43,68.50" fill="none" stroke="#f9793c" stroke-width="1.15" stroke-opacity="1.0" stroke-linejoin="round"/>
<path d="M105.60,300.85L282.30,68.50" fill="none" stroke="#f9793c" stroke-width="1.15" stroke-opacity="1.0" stroke-linejoin="round"/>
<path d="M111.46,300.85L288.17,68.50" fill="none" stroke="#f9793c" stroke-width="1.15" stroke-opacity="1.0" stroke-linejoin="round"/>
<path d="M229.50,68.50L334.60,68.50" fill="none" stroke="#f9793c" stroke-width="1.15" stroke-opacity="1.0" stroke-linejoin="round"/>
<path d="M117.33,300.85L117.50,300.62L117.68,300.62L117.85,300.40L118.02,300.40L118.19,300.17L118.37,300.17L118.54,299.94L118.71,299.94L118.88,299.72L119.06,299.72L119.23,299.49L119.40,299.49L119.58,299.26L119.75,299.26L119.92,299.03L120.09,299.03L120.27,298.81L120.44,298.81L120.61,298.58L120.78,298.58L120.96,298.35L121.13,298.35L121.30,298.13L121.47,298.13L121.65,297.90L121.82,297.90L121.99,297.67L122.16,297.67L122.34,297.45L122.51,297.45L122.68,297.22L128.38,297.22L128.55,296.99L128.72,296.99L128.89,296.77L129.07,296.77L129.24,296.54L129.41,296.54L129.58,296.31L129.76,296.31L129.93,296.09L130.10,296.09L130.27,295.86L130.45,295.86L130.62,295.63L130.79,295.63L130.96,295.40L131.14,295.40L131.31,295.18L131.48,295.18L131.65,294.95L131.83,294.95L132.00,294.72L132.17,294.72L132.34,294.50L132.52,294.50L132.69,294.27L132.86,294.27L133.03,294.04L133.21,294.04L133.38,293.82L133.55,293.82L133.73,293.59L139.42,293.59L139.59,293.36L139.76,293.36L139.94,293.14L140.11,293.14L140.28,292.91L140.45,292.91L140.63,292.68L140.80,292.68L140.97,292.45L141.15,292.45L141.32,292.23L141.49,292.23L141.66,292.00L141.84,292.00L142.01,291.77L142.18,291.77L142.35,291.55L142.53,291.55L142.70,291.32L142.87,291.32L143.04,291.09L143.22,291.09L143.39,290.87L143.56,290.87L143.73,290.64L143.91,290.64L144.08,290.41L144.25,290.41L144.42,290.19L144.60,290.19L144.77,289.96L150.46,289.96L150.64,289.73L150.81,289.73L150.98,289.50L151.15,289.50L151.33,289.28L151.50,289.28L151.67,289.05L151.84,289.05L152.02,288.82L152.19,288.82L152.36,288.60L152.53,288.60L152.71,288.37L152.88,288.37L153.05,288.14L153.22,288.14L153.40,287.92L153.57,287.92L153.74,287.69L153.91,287.69L154.09,287.46L154.26,287.46L154.43,287.24L154.60,287.24L154.78,287.01L154.95,287.01L155.12,286.78L155.30,286.78L155.47,286.56L155.64,286.56L155.81,286.33L161.51,286.33L161.68,286.10L161.85,286.10L162.02,285.87L162.20,285.87L162.37,285.65L162.54,285.65L162.72,285.42L162.89,285.42L163.06,285.19L163.23,285.19L163.41,284.97L163.58,284.97L163.75,284.74L163.92,284.74L164.10,284.51L164.27,284.51L164.44,284.29L164.61,284.29L164.79,284.06L164.96,284.06L165.13,283.83L165.30,283.83L165.48,283.61L165.65,283.61L165.82,283.38L165.99,283.38L166.17,283.15L166.34,283.15L166.51,282.92L166.68,282.92L166.86,282.70L172.55,282.70L172.72,282.47L172.90,282.47L173.07,282.24L173.24,282.24L173.41,282.02L173.59,282.02L173.76,281.79L173.93,281.79L174.10,281.56L174.28,281.56L174.45,281.34L174.62,281.34L174.79,281.11L174.97,281.11L175.14,280.88L175.31,280.88L175.48,280.66L175.66,280.66L175.83,280.43L176.00,280.43L176.17,280.20L176.35,280.20L176.52,279.98L176.69,279.98L176.87,279.75L177.04,279.75L177.21,279.52L177.38,279.52L177.56,279.29L177.73,279.29L177.90,279.07L183.59,279.07L183.77,278.84L183.94,278.84L184.11,278.61L184.29,278.61L184.46,278.39L184.63,278.39L184.80,278.16L184.98,278.16L185.15,277.93L185.32,277.93L185.49,277.71L185.67,277.71L185.84,277.48L186.01,277.48L186.18,277.25L186.36,277.25L186.53,277.03L186.70,277.03L186.87,276.80L187.05,276.80L187.22,276.57L187.39,276.57L187.56,276.34L187.74,276.34L187.91,276.12L188.08,276.12L188.25,275.89L188.43,275.89L188.60,275.66L188.77,275.66L188.94,275.44L194.64,275.44L194.81,275.21L194.98,275.21L195.16,274.98L195.33,274.98L195.50,274.76L195.67,274.76L195.85,274.53L196.02,274.53L196.19,274.30L196.36,274.30L196.54,274.08L196.71,274.08L196.88,273.85L197.05,273.85L197.23,273.62L197.40,273.62L197.57,273.40L197.74,273.40L197.92,273.17L198.09,273.17L198.26,272.94L198.44,272.94L198.61,272.71L198.78,272.71L198.95,272.49L199.13,272.49L199.30,272.26L199.47,272.26L199.64,272.03L199.82,272.03L199.99,271.81L205.68,271.81L205.86,271.58L206.03,271.58L206.20,271.35L206.37,271.35L206.55,271.13L206.72,271.13L206.89,270.90L207.06,270.90L207.24,270.67L207.41,270.67L207.58,270.45L207.75,270.45L207.93,270.22L208.10,270.22L208.27,269.99L208.44,269.99L208.62,269.76L208.79,269.76L208.96,269.54L209.13,269.54L209.31,269.31L209.48,269.31L209.65,269.08L209.82,269.08L210.00,268.86L210.17,268.86L210.34,268.63L210.51,268.63L210.69,268.40L210.86,268.40L211.03,268.18L216.73,268.18L216.90,267.95L217.07,267.95L217.24,267.72L217.42,267.72L217.59,267.50L217.76,267.50L217.93,267.27L218.11,267.27L218.28,267.04L218.45,267.04L218.62,266.82L218.80,266.82L218.97,266.59L219.14,266.59L219.31,266.36L219.49,266.36L219.66,266.13L219.83,266.13L220.01,265.91L220.18,265.91L220.35,265.68L220.52,265.68L220.70,265.45L220.87,265.45L221.04,265.23L221.21,265.23L221.39,265.00L221.56,265.00L221.73,264.77L221.90,264.77L222.08,264.55L227.77,264.55L227.94,264.32L228.12,264.32L228.29,264.09L228.46,264.09L228.63,263.87L228.81,263.87L228.98,263.64L229.15,263.64L229.32,263.41L229.50,263.41L229.67,263.18L229.84,263.18L230.01,262.96L230.19,262.96L230.36,262.73L230.53,262.73L230.70,262.50L230.88,262.50L231.05,262.28L231.22,262.28L231.39,262.05L231.57,262.05L231.74,261.82L231.91,261.82L232.08,261.60L232.26,261.60L232.43,261.37L232.60,261.37L232.77,261.14L232.95,261.14L233.12,260.92L238.81,260.92L238.99,260.69L239.16,260.69L239.33,260.46L239.50,260.46L239.68,260.23L239.85,260.23L240.02,260.01L240.19,260.01L240.37,259.78L240.54,259.78L240.71,259.55L240.88,259.55L241.06,259.33L241.23,259.33L241.40,259.10L241.58,259.10L241.75,258.87L241.92,258.87L242.09,258.65L242.27,258.65L242.44,258.42L242.61,258.42L242.78,258.19L242.96,258.19L243.13,257.97L243.30,257.97L243.47,257.74L243.65,257.74L243.82,257.51L243.99,257.51L244.16,257.29L249.86,257.29L250.03,257.06L250.20,257.06L250.38,256.83L250.55,256.83L250.72,256.60L250.89,256.60L251.07,256.38L251.24,256.38L251.41,256.15L251.58,256.15L251.76,255.92L251.93,255.92L252.10,255.70L252.27,255.70L252.45,255.47L252.62,255.47L252.79,255.24L252.96,255.24L253.14,255.02L253.31,255.02L253.48,254.79L253.65,254.79L253.83,254.56L254.00,254.56L254.17,254.34L254.34,254.34L254.52,254.11L254.69,254.11L254.86,253.88L255.03,253.88L255.21,253.65L260.90,253.65L261.07,253.43L261.25,253.43L261.42,253.20L261.59,253.20L261.76,252.97L261.94,252.97L262.11,252.75L262.28,252.75L262.45,252.52L262.63,252.52L262.80,252.29L262.97,252.29L263.15,252.07L263.32,252.07L263.49,251.84L263.66,251.84L263.84,251.61L264.01,251.61L264.18,251.39L264.35,251.39L264.53,251.16L264.70,251.16L264.87,250.93L265.04,250.93L265.22,250.71L265.39,250.71L265.56,250.48L265.73,250.48L265.91,250.25L266.08,250.25L266.25,250.02L271.95,250.02L272.12,249.80L272.29,249.80L272.46,249.57L272.64,249.57L272.81,249.34L272.98,249.34L273.15,249.12L273.33,249.12L273.50,248.89L273.67,248.89L273.84,248.66L274.02,248.66L274.19,248.44L274.36,248.44L274.53,248.21L274.71,248.21L274.88,247.98L275.05,247.98L275.22,247.76L275.40,247.76L275.57,247.53L275.74,247.53L275.91,247.30L276.09,247.30L276.26,247.07L276.43,247.07L276.60,246.85L276.78,246.85L276.95,246.62L277.12,246.62L277.30,246.39L282.99,246.39L283.16,246.17L283.33,246.17L283.51,245.94L283.68,245.94L283.85,245.71L284.02,245.71L284.20,245.49L284.37,245.49L284.54,245.26L284.72,245.26L284.89,245.03L285.06,245.03L285.23,244.81L285.41,244.81L285.58,244.58L285.75,244.58L285.92,244.35L286.10,244.35L286.27,244.13L286.44,244.13L286.61,243.90L286.79,243.90L286.96,243.67L287.13,243.67L287.30,243.44L287.48,243.44L287.65,243.22L287.82,243.22L287.99,242.99L288.17,242.99L288.34,242.76" fill="none" stroke="#3a8aa6" stroke-width="1.2" stroke-opacity="1.0" stroke-linejoin="round"/>
<path d="M128.89,300.85L129.07,300.62L129.24,300.62L129.41,300.40L129.58,300.40L129.76,300.17L129.93,300.17L130.10,299.94L130.27,299.94L130.45,299.72L130.62,299.72L130.79,299.49L130.96,299.49L131.14,299.26L131.31,299.26L131.48,299.03L131.65,299.03L131.83,298.81L132.00,298.81L132.17,298.58L132.34,298.58L132.52,298.35L132.69,298.35L132.86,298.13L133.03,298.13L133.21,297.90L133.38,297.90L133.55,297.67L133.73,297.67L134.07,297.22L139.94,297.22L140.11,296.99L140.28,296.99L140.45,296.77L140.63,296.77L140.80,296.54L140.97,296.54L141.15,296.31L141.32,296.31L141.49,296.09L141.66,296.09L141.84,295.86L142.01,295.86L142.18,295.63L142.35,295.63L142.53,295.40L142.70,295.40L142.87,295.18L143.04,295.18L143.22,294.95L143.39,294.95L143.56,294.72L143.73,294.72L143.91,294.50L144.08,294.50L144.25,294.27L144.42,294.27L144.60,294.04L144.77,294.04L145.11,293.59L150.98,293.59L151.15,293.36L151.33,293.36L151.50,293.14L151.67,293.14L151.84,292.91L152.02,292.91L152.19,292.68L152.36,292.68L152.53,292.45L152.71,292.45L152.88,292.23L153.05,292.23L153.22,292.00L153.40,292.00L153.57,291.77L153.74,291.77L153.91,291.55L154.09,291.55L154.26,291.32L154.43,291.32L154.60,291.09L154.78,291.09L154.95,290.87L155.12,290.87L155.30,290.64L155.47,290.64L155.64,290.41L155.81,290.41L156.16,289.96L162.02,289.96L162.20,289.73L162.37,289.73L162.54,289.50L162.72,289.50L162.89,289.28L163.06,289.28L163.23,289.05L163.41,289.05L163.58,288.82L163.75,288.82L163.92,288.60L164.10,288.60L164.27,288.37L164.44,288.37L164.61,288.14L164.79,288.14L164.96,287.92L165.13,287.92L165.30,287.69L165.48,287.69L165.65,287.46L165.82,287.46L165.99,287.24L166.17,287.24L166.34,287.01L166.51,287.01L166.68,286.78L166.86,286.78L167.20,286.33L173.07,286.33L173.24,286.10L173.41,286.10L173.59,285.87L173.76,285.87L173.93,285.65L174.10,285.65L174.28,285.42L174.45,285.42L174.62,285.19L174.79,285.19L174.97,284.97L175.14,284.97L175.31,284.74L175.48,284.74L175.66,284.51L175.83,284.51L176.00,284.29L176.17,284.29L176.35,284.06L176.52,284.06L176.69,283.83L176.87,283.83L177.04,283.61L177.21,283.61L177.38,283.38L177.56,283.38L177.73,283.15L177.90,283.15L178.25,282.70L184.11,282.70L184.29,282.47L184.46,282.47L184.63,282.24L184.80,282.24L184.98,282.02L185.15,282.02L185.32,281.79L185.49,281.79L185.67,281.56L185.84,281.56L186.01,281.34L186.18,281.34L186.36,281.11L186.53,281.11L186.70,280.88L186.87,280.88L187.05,280.66L187.22,280.66L187.39,280.43L187.56,280.43L187.74,280.20L187.91,280.20L188.08,279.98L188.25,279.98L188.43,279.75L188.60,279.75L188.77,279.52L188.94,279.52L189.29,279.07L195.16,279.07L195.33,278.84L195.50,278.84L195.67,278.61L195.85,278.61L196.02,278.39L196.19,278.39L196.36,278.16L196.54,278.16L196.71,277.93L196.88,277.93L197.05,277.71L197.23,277.71L197.40,277.48L197.57,277.48L197.74,277.25L197.92,277.25L198.09,277.03L198.26,277.03L198.44,276.80L198.61,276.80L198.78,276.57L198.95,276.57L199.13,276.34L199.30,276.34L199.47,276.12L199.64,276.12L199.82,275.89L199.99,275.89L200.33,275.44L206.20,275.44L206.37,275.21L206.55,275.21L206.72,274.98L206.89,274.98L207.06,274.76L207.24,274.76L207.41,274.53L207.58,274.53L207.75,274.30L207.93,274.30L208.10,274.08L208.27,274.08L208.44,273.85L208.62,273.85L208.79,273.62L208.96,273.62L209.13,273.40L209.31,273.40L209.48,273.17L209.65,273.17L209.82,272.94L210.00,272.94L210.17,272.71L210.34,272.71L210.51,272.49L210.69,272.49L210.86,272.26L211.03,272.26L211.38,271.81L217.24,271.81L217.42,271.58L217.59,271.58L217.76,271.35L217.93,271.35L218.11,271.13L218.28,271.13L218.45,270.90L218.62,270.90L218.80,270.67L218.97,270.67L219.14,270.45L219.31,270.45L219.49,270.22L219.66,270.22L219.83,269.99L220.01,269.99L220.18,269.76L220.35,269.76L220.52,269.54L220.70,269.54L220.87,269.31L221.04,269.31L221.21,269.08L221.39,269.08L221.56,268.86L221.73,268.86L221.90,268.63L222.08,268.63L222.42,268.18L228.29,268.18L228.46,267.95L228.63,267.95L228.81,267.72L228.98,267.72L229.15,267.50L229.32,267.50L229.50,267.27L229.67,267.27L229.84,267.04L230.01,267.04L230.19,266.82L230.36,266.82L230.53,266.59L230.70,266.59L230.88,266.36L231.05,266.36L231.22,266.13L231.39,266.13L231.57,265.91L231.74,265.91L231.91,265.68L232.08,265.68L232.26,265.45L232.43,265.45L232.60,265.23L232.77,265.23L232.95,265.00L233.12,265.00L233.46,264.55L239.33,264.55L239.50,264.32L239.68,264.32L239.85,264.09L240.02,264.09L240.19,263.87L240.37,263.87L240.54,263.64L240.71,263.64L240.88,263.41L241.06,263.41L241.23,263.18L241.40,263.18L241.58,262.96L241.75,262.96L241.92,262.73L242.09,262.73L242.27,262.50L242.44,262.50L242.61,262.28L242.78,262.28L242.96,262.05L243.13,262.05L243.30,261.82L243.47,261.82L243.65,261.60L243.82,261.60L243.99,261.37L244.16,261.37L244.51,260.92L250.38,260.92L250.55,260.69L250.72,260.69L250.89,260.46L251.07,260.46L251.24,260.23L251.41,260.23L251.58,260.01L251.76,260.01L251.93,259.78L252.10,259.78L252.27,259.55L252.45,259.55L252.62,259.33L252.79,259.33L252.96,259.10L253.14,259.10L253.31,258.87L253.48,258.87L253.65,258.65L253.83,258.65L254.00,258.42L254.17,258.42L254.34,258.19L254.52,258.19L254.69,257.97L254.86,257.97L255.03,257.74L255.21,257.74L255.55,257.29L261.42,257.29L261.59,257.06L261.76,257.06L261.94,256.83L262.11,256.83L262.28,256.60L262.45,256.60L262.63,256.38L262.80,256.38L262.97,256.15L263.15,256.15L263.32,255.92L263.49,255.92L263.66,255.70L263.84,255.70L264.01,255.47L264.18,255.47L264.35,255.24L264.53,255.24L264.70,255.02L264.87,255.02L265.04,254.79L265.22,254.79L265.39,254.56L265.56,254.56L265.73,254.34L265.91,254.34L266.08,254.11L266.25,254.11L266.60,253.65L272.46,253.65L272.64,253.43L272.81,253.43L272.98,253.20L273.15,253.20L273.33,252.97L273.50,252.97L273.67,252.75L273.84,252.75L274.02,252.52L274.19,252.52L274.36,252.29L274.53,252.29L274.71,252.07L274.88,252.07L275.05,251.84L275.22,251.84L275.40,251.61L275.57,251.61L275.74,251.39L275.91,251.39L276.09,251.16L276.26,251.16L276.43,250.93L276.60,250.93L276.78,250.71L276.95,250.71L277.12,250.48L277.30,250.48L277.64,250.02L283.51,250.02L283.68,249.80L283.85,249.80L284.02,249.57L284.20,249.57L284.37,249.34L284.54,249.34L284.72,249.12L284.89,249.12L285.06,248.89L285.23,248.89L285.41,248.66L285.58,248.66L285.75,248.44L285.92,248.44L286.10,248.21L286.27,248.21L286.44,247.98L286.61,247.98L286.79,247.76L286.96,247.76L287.13,247.53L287.30,247.53L287.48,247.30L287.65,247.30L287.82,247.07L287.99,247.07L288.17,246.85L288.34,246.85L291.44,242.76" fill="none" stroke="#3a8aa6" stroke-width="1.2" stroke-opacity="1.0" stroke-linejoin="round"/>
<path d="M140.45,300.85L140.63,300.62L140.80,300.62L140.97,300.40L141.15,300.40L141.32,300.17L141.49,300.17L141.66,299.94L141.84,299.94L142.01,299.72L142.18,299.72L142.35,299.49L142.53,299.49L142.70,299.26L142.87,299.26L143.04,299.03L143.22,299.03L143.39,298.81L143.56,298.81L143.73,298.58L143.91,298.58L144.08,298.35L144.25,298.35L144.42,298.13L144.60,298.13L144.77,297.90L144.94,297.90L145.46,297.22L151.50,297.22L151.67,296.99L151.84,296.99L152.02,296.77L152.19,296.77L152.36,296.54L152.53,296.54L152.71,296.31L152.88,296.31L153.05,296.09L153.22,296.09L153.40,295.86L153.57,295.86L153.74,295.63L153.91,295.63L154.09,295.40L154.26,295.40L154.43,295.18L154.60,295.18L154.78,294.95L154.95,294.95L155.12,294.72L155.30,294.72L155.47,294.50L155.64,294.50L155.81,294.27L155.99,294.27L156.50,293.59L162.54,293.59L162.72,293.36L162.89,293.36L163.06,293.14L163.23,293.14L163.41,292.91L163.58,292.91L163.75,292.68L163.92,292.68L164.10,292.45L164.27,292.45L164.44,292.23L164.61,292.23L164.79,292.00L164.96,292.00L165.13,291.77L165.30,291.77L165.48,291.55L165.65,291.55L165.82,291.32L165.99,291.32L166.17,291.09L166.34,291.09L166.51,290.87L166.68,290.87L166.86,290.64L167.03,290.64L167.55,289.96L173.59,289.96L173.76,289.73L173.93,289.73L174.10,289.50L174.28,289.50L174.45,289.28L174.62,289.28L174.79,289.05L174.97,289.05L175.14,288.82L175.31,288.82L175.48,288.60L175.66,288.60L175.83,288.37L176.00,288.37L176.17,288.14L176.35,288.14L176.52,287.92L176.69,287.92L176.87,287.69L177.04,287.69L177.21,287.46L177.38,287.46L177.56,287.24L177.73,287.24L177.90,287.01L178.07,287.01L178.59,286.33L184.63,286.33L184.80,286.10L184.98,286.10L185.15,285.87L185.32,285.87L185.49,285.65L185.67,285.65L185.84,285.42L186.01,285.42L186.18,285.19L186.36,285.19L186.53,284.97L186.70,284.97L186.87,284.74L187.05,284.74L187.22,284.51L187.39,284.51L187.56,284.29L187.74,284.29L187.91,284.06L188.08,284.06L188.25,283.83L188.43,283.83L188.60,283.61L188.77,283.61L188.94,283.38L189.12,283.38L189.63,282.70L195.67,282.70L195.85,282.47L196.02,282.47L196.19,282.24L196.36,282.24L196.54,282.02L196.71,282.02L196.88,281.79L197.05,281.79L197.23,281.56L197.40,281.56L197.57,281.34L197.74,281.34L197.92,281.11L198.09,281.11L198.26,280.88L198.44,280.88L198.61,280.66L198.78,280.66L198.95,280.43L199.13,280.43L199.30,280.20L199.47,280.20L199.64,279.98L199.82,279.98L199.99,279.75L200.16,279.75L200.68,279.07L206.72,279.07L206.89,278.84L207.06,278.84L207.24,278.61L207.41,278.61L207.58,278.39L207.75,278.39L207.93,278.16L208.10,278.16L208.27,277.93L208.44,277.93L208.62,277.71L208.79,277.71L208.96,277.48L209.13,277.48L209.31,277.25L209.48,277.25L209.65,277.03L209.82,277.03L210.00,276.80L210.17,276.80L210.34,276.57L210.51,276.57L210.69,276.34L210.86,276.34L211.03,276.12L211.20,276.12L211.72,275.44L217.76,275.44L217.93,275.21L218.11,275.21L218.28,274.98L218.45,274.98L218.62,274.76L218.80,274.76L218.97,274.53L219.14,274.53L219.31,274.30L219.49,274.30L219.66,274.08L219.83,274.08L220.01,273.85L220.18,273.85L220.35,273.62L220.52,273.62L220.70,273.40L220.87,273.40L221.04,273.17L221.21,273.17L221.39,272.94L221.56,272.94L221.73,272.71L221.90,272.71L222.08,272.49L222.25,272.49L222.77,271.81L228.81,271.81L228.98,271.58L229.15,271.58L229.32,271.35L229.50,271.35L229.67,271.13L229.84,271.13L230.01,270.90L230.19,270.90L230.36,270.67L230.53,270.67L230.70,270.45L230.88,270.45L231.05,270.22L231.22,270.22L231.39,269.99L231.57,269.99L231.74,269.76L231.91,269.76L232.08,269.54L232.26,269.54L232.43,269.31L232.60,269.31L232.77,269.08L232.95,269.08L233.12,268.86L233.29,268.86L233.81,268.18L239.85,268.18L240.02,267.95L240.19,267.95L240.37,267.72L240.54,267.72L240.71,267.50L240.88,267.50L241.06,267.27L241.23,267.27L241.40,267.04L241.58,267.04L241.75,266.82L241.92,266.82L242.09,266.59L242.27,266.59L242.44,266.36L242.61,266.36L242.78,266.13L242.96,266.13L243.13,265.91L243.30,265.91L243.47,265.68L243.65,265.68L243.82,265.45L243.99,265.45L244.16,265.23L244.34,265.23L244.85,264.55L250.89,264.55L251.07,264.32L251.24,264.32L251.41,264.09L251.58,264.09L251.76,263.87L251.93,263.87L252.10,263.64L252.27,263.64L252.45,263.41L252.62,263.41L252.79,263.18L252.96,263.18L253.14,262.96L253.31,262.96L253.48,262.73L253.65,262.73L253.83,262.50L254.00,262.50L254.17,262.28L254.34,262.28L254.52,262.05L254.69,262.05L254.86,261.82L255.03,261.82L255.21,261.60L255.38,261.60L255.90,260.92L261.94,260.92L262.11,260.69L262.28,260.69L262.45,260.46L262.63,260.46L262.80,260.23L262.97,260.23L263.15,260.01L263.32,260.01L263.49,259.78L263.66,259.78L263.84,259.55L264.01,259.55L264.18,259.33L264.35,259.33L264.53,259.10L264.70,259.10L264.87,258.87L265.04,258.87L265.22,258.65L265.39,258.65L265.56,258.42L265.73,258.42L265.91,258.19L266.08,258.19L266.25,257.97L266.42,257.97L266.94,257.29L272.98,257.29L273.15,257.06L273.33,257.06L273.50,256.83L273.67,256.83L273.84,256.60L274.02,256.60L274.19,256.38L274.36,256.38L274.53,256.15L274.71,256.15L274.88,255.92L275.05,255.92L275.22,255.70L275.40,255.70L275.57,255.47L275.74,255.47L275.91,255.24L276.09,255.24L276.26,255.02L276.43,255.02L276.60,254.79L276.78,254.79L276.95,254.56L277.12,254.56L277.30,254.34L277.47,254.34L277.99,253.65L284.02,253.65L284.20,253.43L284.37,253.43L284.54,253.20L284.72,253.20L284.89,252.97L285.06,252.97L285.23,252.75L285.41,252.75L285.58,252.52L285.75,252.52L285.92,252.29L286.10,252.29L286.27,252.07L286.44,252.07L286.61,251.84L286.79,251.84L286.96,251.61L287.13,251.61L287.30,251.39L287.48,251.39L287.65,251.16L287.82,251.16L287.99,250.93L288.17,250.93L288.34,250.71L288.51,250.71L294.55,242.76" fill="none" stroke="#3a8aa6" stroke-width="1.2" stroke-opacity="1.0" stroke-linejoin="round"/>
<path d="M152.02,300.85L152.19,300.62L152.36,300.62L152.53,300.40L152.71,300.40L152.88,300.17L153.05,300.17L153.22,299.94L153.40,299.94L153.57,299.72L153.74,299.72L153.91,299.49L154.09,299.49L154.26,299.26L154.43,299.26L154.60,299.03L154.78,299.03L154.95,298.81L155.12,298.81L155.30,298.58L155.47,298.58L155.64,298.35L155.81,298.35L155.99,298.13L156.16,298.13L156.85,297.22L163.06,297.22L163.23,296.99L163.41,296.99L163.58,296.77L163.75,296.77L163.92,296.54L164.10,296.54L164.27,296.31L164.44,296.31L164.61,296.09L164.79,296.09L164.96,295.86L165.13,295.86L165.30,295.63L165.48,295.63L165.65,295.40L165.82,295.40L165.99,295.18L166.17,295.18L166.34,294.95L166.51,294.95L166.68,294.72L166.86,294.72L167.03,294.50L167.20,294.50L167.89,293.59L174.10,293.59L174.28,293.36L174.45,293.36L174.62,293.14L174.79,293.14L174.97,292.91L175.14,292.91L175.31,292.68L175.48,292.68L175.66,292.45L175.83,292.45L176.00,292.23L176.17,292.23L176.35,292.00L176.52,292.00L176.69,291.77L176.87,291.77L177.04,291.55L177.21,291.55L177.38,291.32L177.56,291.32L177.73,291.09L177.90,291.09L178.07,290.87L178.25,290.87L178.94,289.96L185.15,289.96L185.32,289.73L185.49,289.73L185.67,289.50L185.84,289.50L186.01,289.28L186.18,289.28L186.36,289.05L186.53,289.05L186.70,288.82L186.87,288.82L187.05,288.60L187.22,288.60L187.39,288.37L187.56,288.37L187.74,288.14L187.91,288.14L188.08,287.92L188.25,287.92L188.43,287.69L188.60,287.69L188.77,287.46L188.94,287.46L189.12,287.24L189.29,287.24L189.98,286.33L196.19,286.33L196.36,286.10L196.54,286.10L196.71,285.87L196.88,285.87L197.05,285.65L197.23,285.65L197.40,285.42L197.57,285.42L197.74,285.19L197.92,285.19L198.09,284.97L198.26,284.97L198.44,284.74L198.61,284.74L198.78,284.51L198.95,284.51L199.13,284.29L199.30,284.29L199.47,284.06L199.64,284.06L199.82,283.83L199.99,283.83L200.16,283.61L200.33,283.61L201.02,282.70L207.24,282.70L207.41,282.47L207.58,282.47L207.75,282.24L207.93,282.24L208.10,282.02L208.27,282.02L208.44,281.79L208.62,281.79L208.79,281.56L208.96,281.56L209.13,281.34L209.31,281.34L209.48,281.11L209.65,281.11L209.82,280.88L210.00,280.88L210.17,280.66L210.34,280.66L210.51,280.43L210.69,280.43L210.86,280.20L211.03,280.20L211.20,279.98L211.38,279.98L212.07,279.07L218.28,279.07L218.45,278.84L218.62,278.84L218.80,278.61L218.97,278.61L219.14,278.39L219.31,278.39L219.49,278.16L219.66,278.16L219.83,277.93L220.01,277.93L220.18,277.71L220.35,277.71L220.52,277.48L220.70,277.48L220.87,277.25L221.04,277.25L221.21,277.03L221.39,277.03L221.56,276.80L221.73,276.80L221.90,276.57L222.08,276.57L222.25,276.34L222.42,276.34L223.11,275.44L229.32,275.44L229.50,275.21L229.67,275.21L229.84,274.98L230.01,274.98L230.19,274.76L230.36,274.76L230.53,274.53L230.70,274.53L230.88,274.30L231.05,274.30L231.22,274.08L231.39,274.08L231.57,273.85L231.74,273.85L231.91,273.62L232.08,273.62L232.26,273.40L232.43,273.40L232.60,273.17L232.77,273.17L232.95,272.94L233.12,272.94L233.29,272.71L233.46,272.71L234.16,271.81L240.37,271.81L240.54,271.58L240.71,271.58L240.88,271.35L241.06,271.35L241.23,271.13L241.40,271.13L241.58,270.90L241.75,270.90L241.92,270.67L242.09,270.67L242.27,270.45L242.44,270.45L242.61,270.22L242.78,270.22L242.96,269.99L243.13,269.99L243.30,269.76L243.47,269.76L243.65,269.54L243.82,269.54L243.99,269.31L244.16,269.31L244.34,269.08L244.51,269.08L245.20,268.18L251.41,268.18L251.58,267.95L251.76,267.95L251.93,267.72L252.10,267.72L252.27,267.50L252.45,267.50L252.62,267.27L252.79,267.27L252.96,267.04L253.14,267.04L253.31,266.82L253.48,266.82L253.65,266.59L253.83,266.59L254.00,266.36L254.17,266.36L254.34,266.13L254.52,266.13L254.69,265.91L254.86,265.91L255.03,265.68L255.21,265.68L255.38,265.45L255.55,265.45L256.24,264.55L262.45,264.55L262.63,264.32L262.80,264.32L262.97,264.09L263.15,264.09L263.32,263.87L263.49,263.87L263.66,263.64L263.84,263.64L264.01,263.41L264.18,263.41L264.35,263.18L264.53,263.18L264.70,262.96L264.87,262.96L265.04,262.73L265.22,262.73L265.39,262.50L265.56,262.50L265.73,262.28L265.91,262.28L266.08,262.05L266.25,262.05L266.42,261.82L266.60,261.82L267.29,260.92L273.50,260.92L273.67,260.69L273.84,260.69L274.02,260.46L274.19,260.46L274.36,260.23L274.53,260.23L274.71,260.01L274.88,260.01L275.05,259.78L275.22,259.78L275.40,259.55L275.57,259.55L275.74,259.33L275.91,259.33L276.09,259.10L276.26,259.10L276.43,258.87L276.60,258.87L276.78,258.65L276.95,258.65L277.12,258.42L277.30,258.42L277.47,258.19L277.64,258.19L278.33,257.29L284.54,257.29L284.72,257.06L284.89,257.06L285.06,256.83L285.23,256.83L285.41,256.60L285.58,256.60L285.75,256.38L285.92,256.38L286.10,256.15L286.27,256.15L286.44,255.92L286.61,255.92L286.79,255.70L286.96,255.70L287.13,255.47L287.30,255.47L287.48,255.24L287.65,255.24L287.82,255.02L287.99,255.02L288.17,254.79L288.34,254.79L288.51,254.56L288.68,254.56L297.66,242.76" fill="none" stroke="#3a8aa6" stroke-width="1.2" stroke-opacity="1.0" stroke-linejoin="round"/>
<path d="M163.58,300.85L163.75,300.62L163.92,300.62L164.10,300.40L164.27,300.40L164.44,300.17L164.61,300.17L164.79,299.94L164.96,299.94L165.13,299.72L165.30,299.72L165.48,299.49L165.65,299.49L165.82,299.26L165.99,299.26L166.17,299.03L166.34,299.03L166.51,298.81L166.68,298.81L166.86,298.58L167.03,298.58L167.20,298.35L167.37,298.35L168.24,297.22L174.62,297.22L174.79,296.99L174.97,296.99L175.14,296.77L175.31,296.77L175.48,296.54L175.66,296.54L175.83,296.31L176.00,296.31L176.17,296.09L176.35,296.09L176.52,295.86L176.69,295.86L176.87,295.63L177.04,295.63L177.21,295.40L177.38,295.40L177.56,295.18L177.73,295.18L177.90,294.95L178.07,294.95L178.25,294.72L178.42,294.72L179.28,293.59L185.67,293.59L185.84,293.36L186.01,293.36L186.18,293.14L186.36,293.14L186.53,292.91L186.70,292.91L186.87,292.68L187.05,292.68L187.22,292.45L187.39,292.45L187.56,292.23L187.74,292.23L187.91,292.00L188.08,292.00L188.25,291.77L188.43,291.77L188.60,291.55L188.77,291.55L188.94,291.32L189.12,291.32L189.29,291.09L189.46,291.09L190.32,289.96L196.71,289.96L196.88,289.73L197.05,289.73L197.23,289.50L197.40,289.50L197.57,289.28L197.74,289.28L197.92,289.05L198.09,289.05L198.26,288.82L198.44,288.82L198.61,288.60L198.78,288.60L198.95,288.37L199.13,288.37L199.30,288.14L199.47,288.14L199.64,287.92L199.82,287.92L199.99,287.69L200.16,287.69L200.33,287.46L200.51,287.46L201.37,286.33L207.75,286.33L207.93,286.10L208.10,286.10L208.27,285.87L208.44,285.87L208.62,285.65L208.79,285.65L208.96,285.42L209.13,285.42L209.31,285.19L209.48,285.19L209.65,284.97L209.82,284.97L210.00,284.74L210.17,284.74L210.34,284.51L210.51,284.51L210.69,284.29L210.86,284.29L211.03,284.06L211.20,284.06L211.38,283.83L211.55,283.83L212.41,282.70L218.80,282.70L218.97,282.47L219.14,282.47L219.31,282.24L219.49,282.24L219.66,282.02L219.83,282.02L220.01,281.79L220.18,281.79L220.35,281.56L220.52,281.56L220.70,281.34L220.87,281.34L221.04,281.11L221.21,281.11L221.39,280.88L221.56,280.88L221.73,280.66L221.90,280.66L222.08,280.43L222.25,280.43L222.42,280.20L222.59,280.20L223.46,279.07L229.84,279.07L230.01,278.84L230.19,278.84L230.36,278.61L230.53,278.61L230.70,278.39L230.88,278.39L231.05,278.16L231.22,278.16L231.39,277.93L231.57,277.93L231.74,277.71L231.91,277.71L232.08,277.48L232.26,277.48L232.43,277.25L232.60,277.25L232.77,277.03L232.95,277.03L233.12,276.80L233.29,276.80L233.46,276.57L233.64,276.57L234.50,275.44L240.88,275.44L241.06,275.21L241.23,275.21L241.40,274.98L241.58,274.98L241.75,274.76L241.92,274.76L242.09,274.53L242.27,274.53L242.44,274.30L242.61,274.30L242.78,274.08L242.96,274.08L243.13,273.85L243.30,273.85L243.47,273.62L243.65,273.62L243.82,273.40L243.99,273.40L244.16,273.17L244.34,273.17L244.51,272.94L244.68,272.94L245.54,271.81L251.93,271.81L252.10,271.58L252.27,271.58L252.45,271.35L252.62,271.35L252.79,271.13L252.96,271.13L253.14,270.90L253.31,270.90L253.48,270.67L253.65,270.67L253.83,270.45L254.00,270.45L254.17,270.22L254.34,270.22L254.52,269.99L254.69,269.99L254.86,269.76L255.03,269.76L255.21,269.54L255.38,269.54L255.55,269.31L255.73,269.31L256.59,268.18L262.97,268.18L263.15,267.95L263.32,267.95L263.49,267.72L263.66,267.72L263.84,267.50L264.01,267.50L264.18,267.27L264.35,267.27L264.53,267.04L264.70,267.04L264.87,266.82L265.04,266.82L265.22,266.59L265.39,266.59L265.56,266.36L265.73,266.36L265.91,266.13L266.08,266.13L266.25,265.91L266.42,265.91L266.60,265.68L266.77,265.68L267.63,264.55L274.02,264.55L274.19,264.32L274.36,264.32L274.53,264.09L274.71,264.09L274.88,263.87L275.05,263.87L275.22,263.64L275.40,263.64L275.57,263.41L275.74,263.41L275.91,263.18L276.09,263.18L276.26,262.96L276.43,262.96L276.60,262.73L276.78,262.73L276.95,262.50L277.12,262.50L277.30,262.28L277.47,262.28L277.64,262.05L277.81,262.05L278.68,260.92L285.06,260.92L285.23,260.69L285.41,260.69L285.58,260.46L285.75,260.46L285.92,260.23L286.10,260.23L286.27,260.01L286.44,260.01L286.61,259.78L286.79,259.78L286.96,259.55L287.13,259.55L287.30,259.33L287.48,259.33L287.65,259.10L287.82,259.10L287.99,258.87L288.17,258.87L288.34,258.65L288.51,258.65L288.68,258.42L288.86,258.42L300.76,242.76" fill="none" stroke="#3a8aa6" stroke-width="1.2" stroke-opacity="1.0" stroke-linejoin="round"/>
<path d="M175.14,300.85L175.31,300.62L175.48,300.62L175.66,300.40L175.83,300.40L176.00,300.17L176.17,300.17L176.35,299.94L176.52,299.94L176.69,299.72L176.87,299.72L177.04,299.49L177.21,299.49L177.38,299.26L177.56,299.26L177.73,299.03L177.90,299.03L178.07,298.81L178.25,298.81L178.42,298.58L178.59,298.58L179.63,297.22L186.18,297.22L186.36,296.99L186.53,296.99L186.70,296.77L186.87,296.77L187.05,296.54L187.22,296.54L187.39,296.31L187.56,296.31L187.74,296.09L187.91,296.09L188.08,295.86L188.25,295.86L188.43,295.63L188.60,295.63L188.77,295.40L188.94,295.40L189.12,295.18L189.29,295.18L189.46,294.95L189.63,294.95L190.67,293.59L197.23,293.59L197.40,293.36L197.57,293.36L197.74,293.14L197.92,293.14L198.09,292.91L198.26,292.91L198.44,292.68L198.61,292.68L198.78,292.45L198.95,292.45L199.13,292.23L199.30,292.23L199.47,292.00L199.64,292.00L199.82,291.77L199.99,291.77L200.16,291.55L200.33,291.55L200.51,291.32L200.68,291.32L201.71,289.96L208.27,289.96L208.44,289.73L208.62,289.73L208.79,289.50L208.96,289.50L209.13,289.28L209.31,289.28L209.48,289.05L209.65,289.05L209.82,288.82L210.00,288.82L210.17,288.60L210.34,288.60L210.51,288.37L210.69,288.37L210.86,288.14L211.03,288.14L211.20,287.92L211.38,287.92L211.55,287.69L211.72,287.69L212.76,286.33L219.31,286.33L219.49,286.10L219.66,286.10L219.83,285.87L220.01,285.87L220.18,285.65L220.35,285.65L220.52,285.42L220.70,285.42L220.87,285.19L221.04,285.19L221.21,284.97L221.39,284.97L221.56,284.74L221.73,284.74L221.90,284.51L222.08,284.51L222.25,284.29L222.42,284.29L222.59,284.06L222.77,284.06L223.80,282.70L230.36,282.70L230.53,282.47L230.70,282.47L230.88,282.24L231.05,282.24L231.22,282.02L231.39,282.02L231.57,281.79L231.74,281.79L231.91,281.56L232.08,281.56L232.26,281.34L232.43,281.34L232.60,281.11L232.77,281.11L232.95,280.88L233.12,280.88L233.29,280.66L233.46,280.66L233.64,280.43L233.81,280.43L234.85,279.07L241.40,279.07L241.58,278.84L241.75,278.84L241.92,278.61L242.09,278.61L242.27,278.39L242.44,278.39L242.61,278.16L242.78,278.16L242.96,277.93L243.13,277.93L243.30,277.71L243.47,277.71L243.65,277.48L243.82,277.48L243.99,277.25L244.16,277.25L244.34,277.03L244.51,277.03L244.68,276.80L244.85,276.80L245.89,275.44L252.45,275.44L252.62,275.21L252.79,275.21L252.96,274.98L253.14,274.98L253.31,274.76L253.48,274.76L253.65,274.53L253.83,274.53L254.00,274.30L254.17,274.30L254.34,274.08L254.52,274.08L254.69,273.85L254.86,273.85L255.03,273.62L255.21,273.62L255.38,273.40L255.55,273.40L255.73,273.17L255.90,273.17L256.93,271.81L263.49,271.81L263.66,271.58L263.84,271.58L264.01,271.35L264.18,271.35L264.35,271.13L264.53,271.13L264.70,270.90L264.87,270.90L265.04,270.67L265.22,270.67L265.39,270.45L265.56,270.45L265.73,270.22L265.91,270.22L266.08,269.99L266.25,269.99L266.42,269.76L266.60,269.76L266.77,269.54L266.94,269.54L267.98,268.18L274.53,268.18L274.71,267.95L274.88,267.95L275.05,267.72L275.22,267.72L275.40,267.50L275.57,267.50L275.74,267.27L275.91,267.27L276.09,267.04L276.26,267.04L276.43,266.82L276.60,266.82L276.78,266.59L276.95,266.59L277.12,266.36L277.30,266.36L277.47,266.13L277.64,266.13L277.81,265.91L277.99,265.91L279.02,264.55L285.58,264.55L285.75,264.32L285.92,264.32L286.10,264.09L286.27,264.09L286.44,263.87L286.61,263.87L286.79,263.64L286.96,263.64L287.13,263.41L287.30,263.41L287.48,263.18L287.65,263.18L287.82,262.96L287.99,262.96L288.17,262.73L288.34,262.73L288.51,262.50L288.68,262.50L288.86,262.28L289.03,262.28L303.87,242.76" fill="none" stroke="#3a8aa6" stroke-width="1.2" stroke-opacity="1.0" stroke-linejoin="round"/>
<path d="M186.70,300.85L186.87,300.62L187.05,300.62L187.22,300.40L187.39,300.40L187.56,300.17L187.74,300.17L187.91,299.94L188.08,299.94L188.25,299.72L188.43,299.72L188.60,299.49L188.77,299.49L188.94,299.26L189.12,299.26L189.29,299.03L189.46,299.03L189.63,298.81L189.81,298.81L191.02,297.22L197.74,297.22L197.92,296.99L198.09,296.99L198.26,296.77L198.44,296.77L198.61,296.54L198.78,296.54L198.95,296.31L199.13,296.31L199.30,296.09L199.47,296.09L199.64,295.86L199.82,295.86L199.99,295.63L200.16,295.63L200.33,295.40L200.51,295.40L200.68,295.18L200.85,295.18L202.06,293.59L208.79,293.59L208.96,293.36L209.13,293.36L209.31,293.14L209.48,293.14L209.65,292.91L209.82,292.91L210.00,292.68L210.17,292.68L210.34,292.45L210.51,292.45L210.69,292.23L210.86,292.23L211.03,292.00L211.20,292.00L211.38,291.77L211.55,291.77L211.72,291.55L211.89,291.55L213.10,289.96L219.83,289.96L220.01,289.73L220.18,289.73L220.35,289.50L220.52,289.50L220.70,289.28L220.87,289.28L221.04,289.05L221.21,289.05L221.39,288.82L221.56,288.82L221.73,288.60L221.90,288.60L222.08,288.37L222.25,288.37L222.42,288.14L222.59,288.14L222.77,287.92L222.94,287.92L224.15,286.33L230.88,286.33L231.05,286.10L231.22,286.10L231.39,285.87L231.57,285.87L231.74,285.65L231.91,285.65L232.08,285.42L232.26,285.42L232.43,285.19L232.60,285.19L232.77,284.97L232.95,284.97L233.12,284.74L233.29,284.74L233.46,284.51L233.64,284.51L233.81,284.29L233.98,284.29L235.19,282.70L241.92,282.70L242.09,282.47L242.27,282.47L242.44,282.24L242.61,282.24L242.78,282.02L242.96,282.02L243.13,281.79L243.30,281.79L243.47,281.56L243.65,281.56L243.82,281.34L243.99,281.34L244.16,281.11L244.34,281.11L244.51,280.88L244.68,280.88L244.85,280.66L245.03,280.66L246.23,279.07L252.96,279.07L253.14,278.84L253.31,278.84L253.48,278.61L253.65,278.61L253.83,278.39L254.00,278.39L254.17,278.16L254.34,278.16L254.52,277.93L254.69,277.93L254.86,277.71L255.03,277.71L255.21,277.48L255.38,277.48L255.55,277.25L255.73,277.25L255.90,277.03L256.07,277.03L257.28,275.44L264.01,275.44L264.18,275.21L264.35,275.21L264.53,274.98L264.70,274.98L264.87,274.76L265.04,274.76L265.22,274.53L265.39,274.53L265.56,274.30L265.73,274.30L265.91,274.08L266.08,274.08L266.25,273.85L266.42,273.85L266.60,273.62L266.77,273.62L266.94,273.40L267.11,273.40L268.32,271.81L275.05,271.81L275.22,271.58L275.40,271.58L275.57,271.35L275.74,271.35L275.91,271.13L276.09,271.13L276.26,270.90L276.43,270.90L276.60,270.67L276.78,270.67L276.95,270.45L277.12,270.45L277.30,270.22L277.47,270.22L277.64,269.99L277.81,269.99L277.99,269.76L278.16,269.76L279.37,268.18L286.10,268.18L286.27,267.95L286.44,267.95L286.61,267.72L286.79,267.72L286.96,267.50L287.13,267.50L287.30,267.27L287.48,267.27L287.65,267.04L287.82,267.04L287.99,266.82L288.17,266.82L288.34,266.59L288.51,266.59L288.68,266.36L288.86,266.36L289.03,266.13L289.20,266.13L306.98,242.76" fill="none" stroke="#3a8aa6" stroke-width="1.2" stroke-opacity="1.0" stroke-linejoin="round"/>
<path d="M198.26,300.85L198.44,300.62L198.61,300.62L198.78,300.40L198.95,300.40L199.13,300.17L199.30,300.17L199.47,299.94L199.64,299.94L199.82,299.72L199.99,299.72L200.16,299.49L200.33,299.49L200.51,299.26L200.68,299.26L200.85,299.03L201.02,299.03L202.40,297.22L209.31,297.22L209.48,296.99L209.65,296.99L209.82,296.77L210.00,296.77L210.17,296.54L210.34,296.54L210.51,296.31L210.69,296.31L210.86,296.09L211.03,296.09L211.20,295.86L211.38,295.86L211.55,295.63L211.72,295.63L211.89,295.40L212.07,295.40L213.45,293.59L220.35,293.59L220.52,293.36L220.70,293.36L220.87,293.14L221.04,293.14L221.21,292.91L221.39,292.91L221.56,292.68L221.73,292.68L221.90,292.45L222.08,292.45L222.25,292.23L222.42,292.23L222.59,292.00L222.77,292.00L222.94,291.77L223.11,291.77L224.49,289.96L231.39,289.96L231.57,289.73L231.74,289.73L231.91,289.50L232.08,289.50L232.26,289.28L232.43,289.28L232.60,289.05L232.77,289.05L232.95,288.82L233.12,288.82L233.29,288.60L233.46,288.60L233.64,288.37L233.81,288.37L233.98,288.14L234.16,288.14L235.54,286.33L242.44,286.33L242.61,286.10L242.78,286.10L242.96,285.87L243.13,285.87L243.30,285.65L243.47,285.65L243.65,285.42L243.82,285.42L243.99,285.19L244.16,285.19L244.34,284.97L244.51,284.97L244.68,284.74L244.85,284.74L245.03,284.51L245.20,284.51L246.58,282.70L253.48,282.70L253.65,282.47L253.83,282.47L254.00,282.24L254.17,282.24L254.34,282.02L254.52,282.02L254.69,281.79L254.86,281.79L255.03,281.56L255.21,281.56L255.38,281.34L255.55,281.34L255.73,281.11L255.90,281.11L256.07,280.88L256.24,280.88L257.62,279.07L264.53,279.07L264.70,278.84L264.87,278.84L265.04,278.61L265.22,278.61L265.39,278.39L265.56,278.39L265.73,278.16L265.91,278.16L266.08,277.93L266.25,277.93L266.42,277.71L266.60,277.71L266.77,277.48L266.94,277.48L267.11,277.25L267.29,277.25L268.67,275.44L275.57,275.44L275.74,275.21L275.91,275.21L276.09,274.98L276.26,274.98L276.43,274.76L276.60,274.76L276.78,274.53L276.95,274.53L277.12,274.30L277.30,274.30L277.47,274.08L277.64,274.08L277.81,273.85L277.99,273.85L278.16,273.62L278.33,273.62L279.71,271.81L286.61,271.81L286.79,271.58L286.96,271.58L287.13,271.35L287.30,271.35L287.48,271.13L287.65,271.13L287.82,270.90L287.99,270.90L288.17,270.67L288.34,270.67L288.51,270.45L288.68,270.45L288.86,270.22L289.03,270.22L289.20,269.99L289.37,269.99L310.08,242.76" fill="none" stroke="#3a8aa6" stroke-width="1.2" stroke-opacity="1.0" stroke-linejoin="round"/>
<path d="M209.82,300.85L210.00,300.62L210.17,300.62L210.34,300.40L210.51,300.40L210.69,300.17L210.86,300.17L211.03,299.94L211.20,299.94L211.38,299.72L211.55,299.72L211.72,299.49L211.89,299.49L212.07,299.26L212.24,299.26L213.79,297.22L220.87,297.22L221.04,296.99L221.21,296.99L221.39,296.77L221.56,296.77L221.73,296.54L221.90,296.54L222.08,296.31L222.25,296.31L222.42,296.09L222.59,296.09L222.77,295.86L222.94,295.86L223.11,295.63L223.28,295.63L224.84,293.59L231.91,293.59L232.08,293.36L232.26,293.36L232.43,293.14L232.60,293.14L232.77,292.91L232.95,292.91L233.12,292.68L233.29,292.68L233.46,292.45L233.64,292.45L233.81,292.23L233.98,292.23L234.16,292.00L234.33,292.00L235.88,289.96L242.96,289.96L243.13,289.73L243.30,289.73L243.47,289.50L243.65,289.50L243.82,289.28L243.99,289.28L244.16,289.05L244.34,289.05L244.51,288.82L244.68,288.82L244.85,288.60L245.03,288.60L245.20,288.37L245.37,288.37L246.92,286.33L254.00,286.33L254.17,286.10L254.34,286.10L254.52,285.87L254.69,285.87L254.86,285.65L255.03,285.65L255.21,285.42L255.38,285.42L255.55,285.19L255.73,285.19L255.90,284.97L256.07,284.97L256.24,284.74L256.42,284.74L257.97,282.70L265.04,282.70L265.22,282.47L265.39,282.47L265.56,282.24L265.73,282.24L265.91,282.02L266.08,282.02L266.25,281.79L266.42,281.79L266.60,281.56L266.77,281.56L266.94,281.34L267.11,281.34L267.29,281.11L267.46,281.11L269.01,279.07L276.09,279.07L276.26,278.84L276.43,278.84L276.60,278.61L276.78,278.61L276.95,278.39L277.12,278.39L277.30,278.16L277.47,278.16L277.64,277.93L277.81,277.93L277.99,277.71L278.16,277.71L278.33,277.48L278.50,277.48L280.06,275.44L287.13,275.44L287.30,275.21L287.48,275.21L287.65,274.98L287.82,274.98L287.99,274.76L288.17,274.76L288.34,274.53L288.51,274.53L288.68,274.30L288.86,274.30L289.03,274.08L289.20,274.08L289.37,273.85L289.55,273.85L313.19,242.76" fill="none" stroke="#3a8aa6" stroke-width="1.2" stroke-opacity="1.0" stroke-linejoin="round"/>
<path d="M221.39,300.85L221.56,300.62L221.73,300.62L221.90,300.40L222.08,300.40L222.25,300.17L222.42,300.17L222.59,299.94L222.77,299.94L222.94,299.72L223.11,299.72L223.28,299.49L223.46,299.49L225.18,297.22L232.43,297.22L232.60,296.99L232.77,296.99L232.95,296.77L233.12,296.77L233.29,296.54L233.46,296.54L233.64,296.31L233.81,296.31L233.98,296.09L234.16,296.09L234.33,295.86L234.50,295.86L236.23,293.59L243.47,293.59L243.65,293.36L243.82,293.36L243.99,293.14L244.16,293.14L244.34,292.91L244.51,292.91L244.68,292.68L244.85,292.68L245.03,292.45L245.20,292.45L245.37,292.23L245.54,292.23L247.27,289.96L254.52,289.96L254.69,289.73L254.86,289.73L255.03,289.50L255.21,289.50L255.38,289.28L255.55,289.28L255.73,289.05L255.90,289.05L256.07,288.82L256.24,288.82L256.42,288.60L256.59,288.60L258.31,286.33L265.56,286.33L265.73,286.10L265.91,286.10L266.08,285.87L266.25,285.87L266.42,285.65L266.60,285.65L266.77,285.42L266.94,285.42L267.11,285.19L267.29,285.19L267.46,284.97L267.63,284.97L269.36,282.70L276.60,282.70L276.78,282.47L276.95,282.47L277.12,282.24L277.30,282.24L277.47,282.02L277.64,282.02L277.81,281.79L277.99,281.79L278.16,281.56L278.33,281.56L278.50,281.34L278.68,281.34L280.40,279.07L287.65,279.07L287.82,278.84L287.99,278.84L288.17,278.61L288.34,278.61L288.51,278.39L288.68,278.39L288.86,278.16L289.03,278.16L289.20,277.93L289.37,277.93L289.55,277.71L289.72,277.71L316.29,242.76" fill="none" stroke="#3a8aa6" stroke-width="1.2" stroke-opacity="1.0" stroke-linejoin="round"/>
<path d="M288.34,242.76L334.60,242.76" fill="none" stroke="#3a8aa6" stroke-width="1.2" stroke-opacity="1.0" stroke-linejoin="round"/>
<path d="M232.95,300.85L233.12,300.62L233.64,300.62L233.81,300.40L234.33,300.40L234.50,300.17L234.85,300.17L235.02,299.94L235.19,299.94L235.36,299.72L235.54,299.72L235.71,299.49L235.88,299.49L236.05,299.26L236.23,299.26L236.40,299.03L255.03,299.03L255.21,298.81L255.73,298.81L255.90,298.58L256.42,298.58L256.59,298.35L256.93,298.35L257.11,298.13L257.28,298.13L257.45,297.90L257.62,297.90L257.80,297.67L257.97,297.67L258.14,297.45L258.31,297.45L258.49,297.22L277.12,297.22L277.30,296.99L277.81,296.99L277.99,296.77L278.50,296.77L278.68,296.54L279.02,296.54L279.19,296.31L279.37,296.31L279.54,296.09L279.71,296.09L279.88,295.86L280.06,295.86L280.23,295.63L280.40,295.63L280.57,295.40L291.79,295.40L291.96,295.18L292.14,295.18L292.31,294.95L292.48,294.95L292.65,294.72L292.83,294.72L293.00,294.50L293.17,294.50L293.34,294.27L293.52,294.27L293.69,294.04L293.86,294.04L294.03,293.82L294.21,293.82L294.38,293.59L297.31,293.59L297.48,293.36L297.66,293.36L297.83,293.14L298.00,293.14L298.17,292.91L298.35,292.91L298.52,292.68L298.69,292.68L298.87,292.45L299.04,292.45L299.21,292.23L299.38,292.23L299.56,292.00L299.73,292.00L299.90,291.77L302.83,291.77L303.01,291.55L303.18,291.55L303.35,291.32L303.52,291.32L303.70,291.09L303.87,291.09L304.04,290.87L304.21,290.87L304.39,290.64L304.56,290.64L304.73,290.41L304.90,290.41L305.08,290.19L305.25,290.19L305.42,289.96L308.36,289.96L308.53,289.73L308.70,289.73L308.87,289.50L309.05,289.50L309.22,289.28L309.39,289.28L309.56,289.05L309.74,289.05L309.91,288.82L310.08,288.82L310.25,288.60L310.43,288.60L310.60,288.37L310.77,288.37L310.94,288.14L313.88,288.14L314.05,287.92L314.22,287.92L314.40,287.69L314.57,287.69L314.74,287.46L314.91,287.46L315.09,287.24L315.26,287.24L315.43,287.01L315.60,287.01L315.78,286.78L315.95,286.78L316.12,286.56L316.29,286.56L316.47,286.33" fill="none" stroke="#22a055" stroke-width="1.35" stroke-opacity="1.0" stroke-linejoin="round"/>
<path d="M255.90,300.85L256.07,300.62L256.59,300.62L256.76,300.40L257.11,300.40L257.28,300.17L257.45,300.17L257.62,299.94L257.80,299.94L257.97,299.72L258.14,299.72L258.31,299.49L258.49,299.49L258.83,299.03L277.99,299.03L278.16,298.81L278.68,298.81L278.85,298.58L279.19,298.58L279.37,298.35L279.54,298.35L279.71,298.13L279.88,298.13L280.06,297.90L280.23,297.90L280.40,297.67L280.57,297.67L280.92,297.22L292.31,297.22L292.48,296.99L292.65,296.99L292.83,296.77L293.00,296.77L293.17,296.54L293.34,296.54L293.52,296.31L293.69,296.31L293.86,296.09L294.03,296.09L294.21,295.86L294.38,295.86L294.72,295.40L297.83,295.40L298.00,295.18L298.17,295.18L298.35,294.95L298.52,294.95L298.69,294.72L298.87,294.72L299.04,294.50L299.21,294.50L299.38,294.27L299.56,294.27L299.73,294.04L299.90,294.04L300.25,293.59L303.35,293.59L303.52,293.36L303.70,293.36L303.87,293.14L304.04,293.14L304.21,292.91L304.39,292.91L304.56,292.68L304.73,292.68L304.90,292.45L305.08,292.45L305.25,292.23L305.42,292.23L305.77,291.77L308.87,291.77L309.05,291.55L309.22,291.55L309.39,291.32L309.56,291.32L309.74,291.09L309.91,291.09L310.08,290.87L310.25,290.87L310.43,290.64L310.60,290.64L310.77,290.41L310.94,290.41L311.29,289.96L314.40,289.96L314.57,289.73L314.74,289.73L314.91,289.50L315.09,289.50L315.26,289.28L315.43,289.28L315.60,289.05L315.78,289.05L315.95,288.82L316.12,288.82L316.29,288.60L316.47,288.60L318.19,286.33" fill="none" stroke="#22a055" stroke-width="1.35" stroke-opacity="1.0" stroke-linejoin="round"/>
<path d="M278.85,300.85L279.02,300.62L279.37,300.62L279.54,300.40L279.71,300.40L279.88,300.17L280.06,300.17L280.23,299.94L280.40,299.94L280.57,299.72L280.75,299.72L281.26,299.03L292.83,299.03L293.00,298.81L293.17,298.81L293.34,298.58L293.52,298.58L293.69,298.35L293.86,298.35L294.03,298.13L294.21,298.13L294.38,297.90L294.55,297.90L295.07,297.22L298.35,297.22L298.52,296.99L298.69,296.99L298.87,296.77L299.04,296.77L299.21,296.54L299.38,296.54L299.56,296.31L299.73,296.31L299.90,296.09L300.07,296.09L300.59,295.40L303.87,295.40L304.04,295.18L304.21,295.18L304.39,294.95L304.56,294.95L304.73,294.72L304.90,294.72L305.08,294.50L305.25,294.50L305.42,294.27L305.59,294.27L306.11,293.59L309.39,293.59L309.56,293.36L309.74,293.36L309.91,293.14L310.08,293.14L310.25,292.91L310.43,292.91L310.60,292.68L310.77,292.68L310.94,292.45L311.12,292.45L311.63,291.77L314.91,291.77L315.09,291.55L315.26,291.55L315.43,291.32L315.60,291.32L315.78,291.09L315.95,291.09L316.12,290.87L316.29,290.87L316.47,290.64L316.64,290.64L319.92,286.33" fill="none" stroke="#22a055" stroke-width="1.35" stroke-opacity="1.0" stroke-linejoin="round"/>
<path d="M293.34,300.85L293.52,300.62L293.69,300.62L293.86,300.40L294.03,300.40L294.21,300.17L294.38,300.17L294.55,299.94L294.72,299.94L295.41,299.03L298.87,299.03L299.04,298.81L299.21,298.81L299.38,298.58L299.56,298.58L299.73,298.35L299.90,298.35L300.07,298.13L300.25,298.13L300.94,297.22L304.39,297.22L304.56,296.99L304.73,296.99L304.90,296.77L305.08,296.77L305.25,296.54L305.42,296.54L305.59,296.31L305.77,296.31L306.46,295.40L309.91,295.40L310.08,295.18L310.25,295.18L310.43,294.95L310.60,294.95L310.77,294.72L310.94,294.72L311.12,294.50L311.29,294.50L311.98,293.59L315.43,293.59L315.60,293.36L315.78,293.36L315.95,293.14L316.12,293.14L316.29,292.91L316.47,292.91L316.64,292.68L316.81,292.68L321.64,286.33" fill="none" stroke="#22a055" stroke-width="1.35" stroke-opacity="1.0" stroke-linejoin="round"/>
<path d="M299.38,300.85L299.56,300.62L299.73,300.62L299.90,300.40L300.07,300.40L300.25,300.17L300.42,300.17L301.28,299.03L304.90,299.03L305.08,298.81L305.25,298.81L305.42,298.58L305.59,298.58L305.77,298.35L305.94,298.35L306.80,297.22L310.43,297.22L310.60,296.99L310.77,296.99L310.94,296.77L311.12,296.77L311.29,296.54L311.46,296.54L312.32,295.40L315.95,295.40L316.12,295.18L316.29,295.18L316.47,294.95L316.64,294.95L316.81,294.72L316.98,294.72L323.37,286.33" fill="none" stroke="#22a055" stroke-width="1.35" stroke-opacity="1.0" stroke-linejoin="round"/>
<path d="M305.42,300.85L305.59,300.62L305.77,300.62L305.94,300.40L306.11,300.40L307.15,299.03L310.94,299.03L311.12,298.81L311.29,298.81L311.46,298.58L311.63,298.58L312.67,297.22L316.47,297.22L316.64,296.99L316.81,296.99L316.98,296.77L317.16,296.77L325.09,286.33" fill="none" stroke="#22a055" stroke-width="1.35" stroke-opacity="1.0" stroke-linejoin="round"/>
<path d="M311.46,300.85L311.63,300.62L311.81,300.62L313.01,299.03L316.98,299.03L317.16,298.81L317.33,298.81L326.82,286.33" fill="none" stroke="#22a055" stroke-width="1.35" stroke-opacity="1.0" stroke-linejoin="round"/>
<path d="M317.50,300.85L328.55,286.33" fill="none" stroke="#22a055" stroke-width="1.35" stroke-opacity="1.0" stroke-linejoin="round"/>
<path d="M319.23,300.85L330.27,286.33" fill="none" stroke="#22a055" stroke-width="1.35" stroke-opacity="1.0" stroke-linejoin="round"/>
<path d="M320.95,300.85L332.00,286.33" fill="none" stroke="#22a055" stroke-width="1.35" stroke-opacity="1.0" stroke-linejoin="round"/>
<path d="M316.47,286.33L334.60,286.33" fill="none" stroke="#22a055" stroke-width="1.35" stroke-opacity="1.0" stroke-linejoin="round"/>
</g>
<rect x="47.10" y="62.50" width="286.50" height="238.05" fill="none" stroke="#5e5e5e" stroke-width="1.1"/>
<line x1="47.10" y1="300.55" x2="321.13" y2="300.55" stroke="#1e5a34" stroke-width="1.2"/>
<line x1="44.10" y1="300.55" x2="47.10" y2="300.55" stroke="#333" stroke-width="1.0"/>
<text x="38.06" y="303.15" font-size="7.68" class="tk">0</text>
<line x1="44.10" y1="255.47" x2="47.10" y2="255.47" stroke="#333" stroke-width="1.0"/>
<text x="28.73 33.44 38.06" y="258.07" font-size="7.68" class="tk">200</text>
<line x1="44.10" y1="210.09" x2="47.10" y2="210.09" stroke="#333" stroke-width="1.0"/>
<text x="28.83 33.44 38.06" y="212.69" font-size="7.68" class="tk">400</text>
<line x1="44.10" y1="164.71" x2="47.10" y2="164.71" stroke="#333" stroke-width="1.0"/>
<text x="28.83 33.44 38.06" y="167.31" font-size="7.68" class="tk">600</text>
<line x1="44.10" y1="119.33" x2="47.10" y2="119.33" stroke="#333" stroke-width="1.0"/>
<text x="28.83 33.44 38.06" y="121.93" font-size="7.68" class="tk">800</text>
<text x="24.18 28.83 33.44 38.06" y="76.55" font-size="7.68" class="tk">1000</text>
<line x1="47.10" y1="300.55" x2="47.10" y2="303.35" stroke="#333" stroke-width="1.0"/>
<text x="45.26" y="311.05" font-size="7.68" class="tk">0</text>
<line x1="81.61" y1="300.55" x2="81.61" y2="303.35" stroke="#333" stroke-width="1.0"/>
<text x="75.07 79.77 84.39" y="311.05" font-size="7.68" class="tk">200</text>
<line x1="116.12" y1="300.55" x2="116.12" y2="303.35" stroke="#333" stroke-width="1.0"/>
<text x="109.67 114.29 118.90" y="311.05" font-size="7.68" class="tk">400</text>
<line x1="150.64" y1="300.55" x2="150.64" y2="303.35" stroke="#333" stroke-width="1.0"/>
<text x="144.19 148.80 153.41" y="311.05" font-size="7.68" class="tk">600</text>
<line x1="185.15" y1="300.55" x2="185.15" y2="303.35" stroke="#333" stroke-width="1.0"/>
<text x="178.70 183.31 187.92" y="311.05" font-size="7.68" class="tk">800</text>
<line x1="219.66" y1="300.55" x2="219.66" y2="303.35" stroke="#333" stroke-width="1.0"/>
<text x="210.86 215.52 220.13 224.74" y="311.05" font-size="7.68" class="tk">1000</text>
<line x1="254.17" y1="300.55" x2="254.17" y2="303.35" stroke="#333" stroke-width="1.0"/>
<text x="245.38 249.93 254.64 259.25" y="311.05" font-size="7.68" class="tk">1200</text>
<line x1="288.68" y1="300.55" x2="288.68" y2="303.35" stroke="#333" stroke-width="1.0"/>
<text x="279.89 284.54 289.15 293.77" y="311.05" font-size="7.68" class="tk">1400</text>
<line x1="323.20" y1="300.55" x2="323.20" y2="303.35" stroke="#333" stroke-width="1.0"/>
<text x="314.40 319.05 323.66 328.28" y="311.05" font-size="7.68" class="tk">1600</text>
<clipPath id="clipB"><rect x="379.75" y="62.50" width="286.55" height="240.90"/></clipPath>
<g clip-path="url(#clipB)">
<path d="M383.85,301.25L384.36,300.57L514.92,68.93L515.43,68.70" fill="none" stroke="#f9793c" stroke-width="1.15" stroke-opacity="1.0" stroke-linejoin="round"/>
<path d="M388.45,301.25L388.97,300.80L519.53,69.15L520.04,68.70" fill="none" stroke="#f9793c" stroke-width="1.15" stroke-opacity="1.0" stroke-linejoin="round"/>
<path d="M393.06,301.25L393.57,301.02L524.13,69.38L524.65,68.70" fill="none" stroke="#f9793c" stroke-width="1.15" stroke-opacity="1.0" stroke-linejoin="round"/>
<path d="M398.18,301.25L529.25,68.70" fill="none" stroke="#f9793c" stroke-width="1.15" stroke-opacity="1.0" stroke-linejoin="round"/>
<path d="M402.79,301.25L403.30,300.57L533.86,68.93L534.37,68.70" fill="none" stroke="#f9793c" stroke-width="1.15" stroke-opacity="1.0" stroke-linejoin="round"/>
<path d="M407.40,301.25L407.91,300.80L538.47,69.15L538.98,68.70" fill="none" stroke="#f9793c" stroke-width="1.15" stroke-opacity="1.0" stroke-linejoin="round"/>
<path d="M412.01,301.25L412.52,301.02L543.08,69.38L543.59,68.70" fill="none" stroke="#f9793c" stroke-width="1.15" stroke-opacity="1.0" stroke-linejoin="round"/>
<path d="M417.13,301.25L548.20,68.70" fill="none" stroke="#f9793c" stroke-width="1.15" stroke-opacity="1.0" stroke-linejoin="round"/>
<path d="M421.73,301.25L422.25,300.57L552.81,68.93L553.32,68.70" fill="none" stroke="#f9793c" stroke-width="1.15" stroke-opacity="1.0" stroke-linejoin="round"/>
<path d="M426.34,301.25L426.85,300.80L557.41,69.15L557.93,68.70" fill="none" stroke="#f9793c" stroke-width="1.15" stroke-opacity="1.0" stroke-linejoin="round"/>
<path d="M430.95,301.25L431.46,301.02L562.02,69.38L562.53,68.70" fill="none" stroke="#f9793c" stroke-width="1.15" stroke-opacity="1.0" stroke-linejoin="round"/>
<path d="M515.43,68.70L667.30,68.70" fill="none" stroke="#f9793c" stroke-width="1.15" stroke-opacity="1.0" stroke-linejoin="round"/>
<path d="M436.07,301.25L440.17,297.62L444.26,297.62L448.36,293.98L452.45,293.98L456.55,290.35L460.65,290.35L464.74,286.72L468.84,286.72L472.93,283.08L477.03,283.08L481.13,279.45L485.22,279.45L489.32,275.81L493.41,275.81L497.51,272.18L501.61,272.18L505.70,268.55L509.80,268.55L513.89,264.91L517.99,264.91L522.09,261.28L526.18,261.28L530.28,257.65L534.37,257.65L538.47,254.01L542.57,254.01L546.66,250.38L550.76,250.38L554.85,246.75L558.95,246.75L563.05,243.11" fill="none" stroke="#3a8aa6" stroke-width="1.2" stroke-opacity="1.0" stroke-linejoin="round"/>
<path d="M444.77,301.25L445.29,301.02L448.87,297.84L449.38,297.62L452.97,297.62L453.48,297.39L457.06,294.21L457.57,293.98L461.16,293.98L461.67,293.76L465.25,290.58L465.77,290.35L469.35,290.35L469.86,290.12L473.45,286.94L473.96,286.72L477.54,286.72L478.05,286.49L481.64,283.31L482.15,283.08L485.73,283.08L486.25,282.85L489.83,279.68L490.34,279.45L493.93,279.45L494.44,279.22L498.02,276.04L498.53,275.81L502.12,275.81L502.63,275.59L506.21,272.41L506.73,272.18L510.31,272.18L510.82,271.95L514.41,268.77L514.92,268.55L518.50,268.55L519.01,268.32L522.60,265.14L523.11,264.91L526.69,264.91L527.21,264.69L530.79,261.51L531.30,261.28L534.89,261.28L535.40,261.05L538.98,257.87L539.49,257.65L543.08,257.65L543.59,257.42L547.17,254.24L547.69,254.01L551.27,254.01L551.78,253.79L555.37,250.61L555.88,250.38L559.46,250.38L559.97,250.15L567.65,243.34L568.17,243.11" fill="none" stroke="#3a8aa6" stroke-width="1.2" stroke-opacity="1.0" stroke-linejoin="round"/>
<path d="M453.99,301.25L458.09,297.62L462.18,297.62L466.28,293.98L470.37,293.98L474.47,290.35L478.57,290.35L482.66,286.72L486.76,286.72L490.85,283.08L494.95,283.08L499.05,279.45L503.14,279.45L507.24,275.81L511.33,275.81L515.43,272.18L519.53,272.18L523.62,268.55L527.72,268.55L531.81,264.91L535.91,264.91L540.01,261.28L544.10,261.28L548.20,257.65L552.29,257.65L556.39,254.01L560.49,254.01L572.77,243.11" fill="none" stroke="#3a8aa6" stroke-width="1.2" stroke-opacity="1.0" stroke-linejoin="round"/>
<path d="M462.69,301.25L463.21,301.02L466.79,297.84L467.30,297.62L470.89,297.62L471.40,297.39L474.98,294.21L475.49,293.98L479.08,293.98L479.59,293.76L483.17,290.58L483.69,290.35L487.27,290.35L487.78,290.12L491.37,286.94L491.88,286.72L495.46,286.72L495.97,286.49L499.56,283.31L500.07,283.08L503.65,283.08L504.17,282.85L507.75,279.68L508.26,279.45L511.85,279.45L512.36,279.22L515.94,276.04L516.45,275.81L520.04,275.81L520.55,275.59L524.13,272.41L524.65,272.18L528.23,272.18L528.74,271.95L532.33,268.77L532.84,268.55L536.42,268.55L536.93,268.32L540.52,265.14L541.03,264.91L544.61,264.91L545.13,264.69L548.71,261.51L549.22,261.28L552.81,261.28L553.32,261.05L556.90,257.87L557.41,257.65L561.00,257.65L561.51,257.42L577.38,243.34L577.89,243.11" fill="none" stroke="#3a8aa6" stroke-width="1.2" stroke-opacity="1.0" stroke-linejoin="round"/>
<path d="M471.91,301.25L476.01,297.62L480.10,297.62L484.20,293.98L488.29,293.98L492.39,290.35L496.49,290.35L500.58,286.72L504.68,286.72L508.77,283.08L512.87,283.08L516.97,279.45L521.06,279.45L525.16,275.81L529.25,275.81L533.35,272.18L537.45,272.18L541.54,268.55L545.64,268.55L549.73,264.91L553.83,264.91L557.93,261.28L562.02,261.28L582.50,243.11" fill="none" stroke="#3a8aa6" stroke-width="1.2" stroke-opacity="1.0" stroke-linejoin="round"/>
<path d="M480.61,301.25L481.13,301.02L484.71,297.84L485.22,297.62L488.81,297.62L489.32,297.39L492.90,294.21L493.41,293.98L497.00,293.98L497.51,293.76L501.09,290.58L501.61,290.35L505.19,290.35L505.70,290.12L509.29,286.94L509.80,286.72L513.38,286.72L513.89,286.49L517.48,283.31L517.99,283.08L521.57,283.08L522.09,282.85L525.67,279.68L526.18,279.45L529.77,279.45L530.28,279.22L533.86,276.04L534.37,275.81L537.96,275.81L538.47,275.59L542.05,272.41L542.57,272.18L546.15,272.18L546.66,271.95L550.25,268.77L550.76,268.55L554.34,268.55L554.85,268.32L558.44,265.14L558.95,264.91L562.53,264.91L563.05,264.69L587.11,243.34L587.62,243.11" fill="none" stroke="#3a8aa6" stroke-width="1.2" stroke-opacity="1.0" stroke-linejoin="round"/>
<path d="M489.83,301.25L493.93,297.62L498.02,297.62L502.12,293.98L506.21,293.98L510.31,290.35L514.41,290.35L518.50,286.72L522.60,286.72L526.69,283.08L530.79,283.08L534.89,279.45L538.98,279.45L543.08,275.81L547.17,275.81L551.27,272.18L555.37,272.18L559.46,268.55L563.56,268.55L592.23,243.11" fill="none" stroke="#3a8aa6" stroke-width="1.2" stroke-opacity="1.0" stroke-linejoin="round"/>
<path d="M498.53,301.25L499.05,301.02L502.63,297.84L503.14,297.62L506.73,297.62L507.24,297.39L510.82,294.21L511.33,293.98L514.92,293.98L515.43,293.76L519.01,290.58L519.53,290.35L523.11,290.35L523.62,290.12L527.21,286.94L527.72,286.72L531.30,286.72L531.81,286.49L535.40,283.31L535.91,283.08L539.49,283.08L540.01,282.85L543.59,279.68L544.10,279.45L547.69,279.45L548.20,279.22L551.78,276.04L552.29,275.81L555.88,275.81L556.39,275.59L559.97,272.41L560.49,272.18L564.07,272.18L564.58,271.95L596.84,243.34L597.35,243.11" fill="none" stroke="#3a8aa6" stroke-width="1.2" stroke-opacity="1.0" stroke-linejoin="round"/>
<path d="M507.75,301.25L511.85,297.62L515.94,297.62L520.04,293.98L524.13,293.98L528.23,290.35L532.33,290.35L536.42,286.72L540.52,286.72L544.61,283.08L548.71,283.08L552.81,279.45L556.90,279.45L561.00,275.81L565.09,275.81L601.96,243.11" fill="none" stroke="#3a8aa6" stroke-width="1.2" stroke-opacity="1.0" stroke-linejoin="round"/>
<path d="M516.45,301.25L516.97,301.02L520.55,297.84L521.06,297.62L524.65,297.62L525.16,297.39L528.74,294.21L529.25,293.98L532.84,293.98L533.35,293.76L536.93,290.58L537.45,290.35L541.03,290.35L541.54,290.12L545.13,286.94L545.64,286.72L549.22,286.72L549.73,286.49L553.32,283.31L553.83,283.08L557.41,283.08L557.93,282.85L561.51,279.68L562.02,279.45L565.61,279.45L566.12,279.22L606.57,243.34L607.08,243.11" fill="none" stroke="#3a8aa6" stroke-width="1.2" stroke-opacity="1.0" stroke-linejoin="round"/>
<path d="M563.05,243.11L667.30,243.11" fill="none" stroke="#3a8aa6" stroke-width="1.2" stroke-opacity="1.0" stroke-linejoin="round"/>
<path d="M525.67,301.25L529.77,299.43L542.05,299.43L546.15,297.62L558.44,297.62L562.53,295.80L570.73,295.80L574.82,293.98L578.92,293.98L583.01,292.17L587.11,292.17L591.21,290.35L595.30,290.35L599.40,288.53L603.49,288.53L607.59,286.72" fill="none" stroke="#22a055" stroke-width="1.35" stroke-opacity="1.0" stroke-linejoin="round"/>
<path d="M543.08,301.25L547.17,299.43L559.46,299.43L563.56,297.62L571.75,297.62L575.85,295.80L579.94,295.80L584.04,293.98L588.13,293.98L592.23,292.17L596.33,292.17L600.42,290.35L604.52,290.35L612.71,286.72" fill="none" stroke="#22a055" stroke-width="1.35" stroke-opacity="1.0" stroke-linejoin="round"/>
<path d="M560.49,301.25L564.58,299.43L572.77,299.43L576.87,297.62L580.97,297.62L585.06,295.80L589.16,295.80L593.25,293.98L597.35,293.98L601.45,292.17L605.54,292.17L617.83,286.72" fill="none" stroke="#22a055" stroke-width="1.35" stroke-opacity="1.0" stroke-linejoin="round"/>
<path d="M573.80,301.25L577.89,299.43L581.99,299.43L586.09,297.62L590.18,297.62L594.28,295.80L598.37,295.80L602.47,293.98L606.57,293.98L622.95,286.72" fill="none" stroke="#22a055" stroke-width="1.35" stroke-opacity="1.0" stroke-linejoin="round"/>
<path d="M583.01,301.25L587.11,299.43L591.21,299.43L595.30,297.62L599.40,297.62L603.49,295.80L607.59,295.80L628.07,286.72" fill="none" stroke="#22a055" stroke-width="1.35" stroke-opacity="1.0" stroke-linejoin="round"/>
<path d="M592.23,301.25L596.33,299.43L600.42,299.43L604.52,297.62L608.61,297.62L633.19,286.72" fill="none" stroke="#22a055" stroke-width="1.35" stroke-opacity="1.0" stroke-linejoin="round"/>
<path d="M601.45,301.25L605.54,299.43L609.64,299.43L638.31,286.72" fill="none" stroke="#22a055" stroke-width="1.35" stroke-opacity="1.0" stroke-linejoin="round"/>
<path d="M610.66,301.25L643.43,286.72" fill="none" stroke="#22a055" stroke-width="1.35" stroke-opacity="1.0" stroke-linejoin="round"/>
<path d="M615.78,301.25L648.55,286.72" fill="none" stroke="#22a055" stroke-width="1.35" stroke-opacity="1.0" stroke-linejoin="round"/>
<path d="M620.90,301.25L653.67,286.72" fill="none" stroke="#22a055" stroke-width="1.35" stroke-opacity="1.0" stroke-linejoin="round"/>
<path d="M607.59,286.72L667.30,286.72" fill="none" stroke="#22a055" stroke-width="1.35" stroke-opacity="1.0" stroke-linejoin="round"/>
</g>
<rect x="379.75" y="62.50" width="286.55" height="238.90" fill="none" stroke="#5e5e5e" stroke-width="1.1"/>
<line x1="379.75" y1="300.70" x2="621.41" y2="300.70" stroke="#48b07a" stroke-width="1.1"/>
<line x1="376.75" y1="301.40" x2="379.75" y2="301.40" stroke="#333" stroke-width="1.0"/>
<text x="370.71" y="304.00" font-size="7.68" class="tk">0</text>
<line x1="376.75" y1="255.83" x2="379.75" y2="255.83" stroke="#333" stroke-width="1.0"/>
<text x="361.38 366.09 370.71" y="258.43" font-size="7.68" class="tk">200</text>
<line x1="376.75" y1="210.41" x2="379.75" y2="210.41" stroke="#333" stroke-width="1.0"/>
<text x="361.48 366.09 370.71" y="213.01" font-size="7.68" class="tk">400</text>
<line x1="376.75" y1="164.99" x2="379.75" y2="164.99" stroke="#333" stroke-width="1.0"/>
<text x="361.48 366.09 370.71" y="167.59" font-size="7.68" class="tk">600</text>
<line x1="376.75" y1="119.57" x2="379.75" y2="119.57" stroke="#333" stroke-width="1.0"/>
<text x="361.48 366.09 370.71" y="122.17" font-size="7.68" class="tk">800</text>
<line x1="376.75" y1="74.15" x2="379.75" y2="74.15" stroke="#333" stroke-width="1.0"/>
<text x="356.83 361.48 366.09 370.71" y="76.75" font-size="7.68" class="tk">1000</text>
<line x1="379.75" y1="301.40" x2="379.75" y2="304.20" stroke="#333" stroke-width="1.0"/>
<text x="377.91" y="311.90" font-size="7.68" class="tk">0</text>
<line x1="430.95" y1="301.40" x2="430.95" y2="304.20" stroke="#333" stroke-width="1.0"/>
<text x="424.46 429.11 433.72" y="311.90" font-size="7.68" class="tk">100</text>
<line x1="482.15" y1="301.40" x2="482.15" y2="304.20" stroke="#333" stroke-width="1.0"/>
<text x="475.60 480.31 484.92" y="311.90" font-size="7.68" class="tk">200</text>
<line x1="533.35" y1="301.40" x2="533.35" y2="304.20" stroke="#333" stroke-width="1.0"/>
<text x="526.91 531.51 536.12" y="311.90" font-size="7.68" class="tk">300</text>
<line x1="584.55" y1="301.40" x2="584.55" y2="304.20" stroke="#333" stroke-width="1.0"/>
<text x="578.10 582.71 587.32" y="311.90" font-size="7.68" class="tk">400</text>
<line x1="635.75" y1="301.40" x2="635.75" y2="304.20" stroke="#333" stroke-width="1.0"/>
<text x="629.27 633.91 638.52" y="311.90" font-size="7.68" class="tk">500</text>
<line x1="287.6" y1="234.8" x2="290.7" y2="286.0" stroke="#8a8580" stroke-width="0.9" stroke-dasharray="1.8,1.1"/>
<line x1="293.1" y1="286.2" x2="293.6" y2="299.0" stroke="#8a8580" stroke-width="0.9" stroke-dasharray="1.8,1.1"/>
<line x1="315.6" y1="280.6" x2="316.6" y2="300.0" stroke="#8a8580" stroke-width="0.9" stroke-dasharray="1.8,1.1"/>
<line x1="557.3" y1="240.3" x2="566.8" y2="283.4" stroke="#8a8580" stroke-width="0.9" stroke-dasharray="1.8,1.1"/>
<line x1="567.7" y1="289.7" x2="571.0" y2="296.0" stroke="#8a8580" stroke-width="0.9" stroke-dasharray="1.8,1.1"/>
<line x1="599.8" y1="282.7" x2="608.8" y2="298.3" stroke="#8a8580" stroke-width="0.9" stroke-dasharray="1.8,1.1"/>
<text x="124.29" y="188.8" fill="#f9793c" font-size="11.80">1</text>
<text x="200.99 208.05 211.76" y="264.5" fill="#3a8aa6" font-size="11.80">1/4</text>
<text x="296.99" y="236.8" fill="#3a8aa6" font-size="11.80">1</text>
<text x="267.89 274.95 278.60 285.66" y="294.0" fill="#22a055" font-size="11.80">1/16</text>
<text x="293.79 300.85 304.56" y="285.8" fill="#22a055" font-size="11.80">1/4</text>
<text x="320.29" y="282.8" fill="#22a055" font-size="11.80">1</text>
<text x="433.63" y="189.8" fill="#f9793c" font-size="11.80">4</text>
<text x="494.29" y="268.9" fill="#3a8aa6" font-size="11.80">1</text>
<text x="577.51" y="239.9" fill="#3a8aa6" font-size="11.80">2</text>
<text x="544.49 551.55 555.26" y="296.1" fill="#22a055" font-size="11.80">1/4</text>
<text x="576.39 583.45 587.02" y="287.9" fill="#22a055" font-size="11.80">1/2</text>
<text x="623.79" y="283.1" fill="#22a055" font-size="11.80">1</text>
<text x="4.15" y="72.6" font-size="10.5" font-weight="bold" fill="#000">A</text>
<text x="343.8" y="72.2" font-size="10.5" font-weight="bold" fill="#000">B</text>
<text transform="translate(26.2,198.6) rotate(-90)" text-anchor="middle" font-size="14.2" fill="#111">#&#160;Pixels</text>
<text transform="translate(357.0,198.9) rotate(-90)" text-anchor="middle" font-size="14.2" fill="#111">#&#160;Pixels</text>
<text x="183.8" y="324.7" text-anchor="middle" font-size="14.5" fill="#111">Timestep</text>
<text x="507.8" y="325.0" text-anchor="middle" font-size="14.5" fill="#111">Timestep</text>
</svg>
</body></html>
